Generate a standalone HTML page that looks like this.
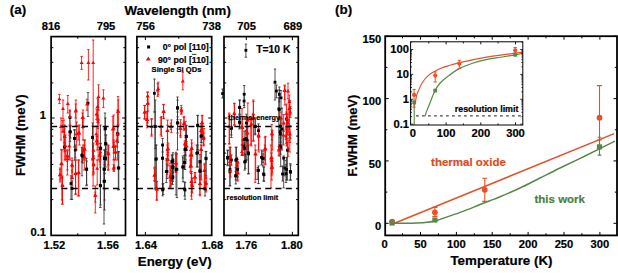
<!DOCTYPE html>
<html><head><meta charset="utf-8"><style>
html,body{margin:0;padding:0;background:#fff;}
svg{display:block;}
</style></head><body>
<svg width="618" height="273" viewBox="0 0 618 273">
<rect width="618" height="273" fill="#fff"/>
<path d="M88 92.6V116.4M86.8 92.6h2.4M86.8 116.4h2.4" stroke="#333" stroke-width="0.85" fill="none"/>
<path d="M70 110.9V141.6M68.8 110.9h2.4M68.8 141.6h2.4" stroke="#333" stroke-width="0.85" fill="none"/>
<path d="M70.4 125.5768947197462V138.02310528025382M69.2 125.5768947197462h2.4M69.2 138.02310528025382h2.4" stroke="#333" stroke-width="0.85" fill="none"/>
<path d="M74.4 129.7220663914774V147.0779336085226M73.2 129.7220663914774h2.4M73.2 147.0779336085226h2.4" stroke="#333" stroke-width="0.85" fill="none"/>
<path d="M92.6 123V160M91.39999999999999 123h2.4M91.39999999999999 160h2.4" stroke="#333" stroke-width="0.85" fill="none"/>
<path d="M105 113V145M103.8 113h2.4M103.8 145h2.4" stroke="#333" stroke-width="0.85" fill="none"/>
<path d="M105.6 135.0056666983098V151.79433330169022M104.39999999999999 135.0056666983098h2.4M104.39999999999999 151.79433330169022h2.4" stroke="#333" stroke-width="0.85" fill="none"/>
<path d="M100.7 143.7127284513456V152.68727154865437M99.5 143.7127284513456h2.4M99.5 152.68727154865437h2.4" stroke="#333" stroke-width="0.85" fill="none"/>
<path d="M118 126.3V142.7M116.8 126.3h2.4M116.8 142.7h2.4" stroke="#333" stroke-width="0.85" fill="none"/>
<path d="M64.5 142.32015569899664V151.67984430100336M63.3 142.32015569899664h2.4M63.3 151.67984430100336h2.4" stroke="#333" stroke-width="0.85" fill="none"/>
<path d="M71 175.8V199.3M69.8 175.8h2.4M69.8 199.3h2.4" stroke="#333" stroke-width="0.85" fill="none"/>
<path d="M82 147.2V175.8M80.8 147.2h2.4M80.8 175.8h2.4" stroke="#333" stroke-width="0.85" fill="none"/>
<path d="M86.5 158.2V185.7M85.3 158.2h2.4M85.3 185.7h2.4" stroke="#333" stroke-width="0.85" fill="none"/>
<path d="M100.3 143.21506529383433V153.3849347061657M99.1 143.21506529383433h2.4M99.1 153.3849347061657h2.4" stroke="#333" stroke-width="0.85" fill="none"/>
<path d="M100.3 167V207.5M99.1 167h2.4M99.1 207.5h2.4" stroke="#333" stroke-width="0.85" fill="none"/>
<path d="M104 156V187.9M102.8 156h2.4M102.8 187.9h2.4" stroke="#333" stroke-width="0.85" fill="none"/>
<path d="M104 170V224M102.8 170h2.4M102.8 224h2.4" stroke="#333" stroke-width="0.85" fill="none"/>
<path d="M105.6 149.37259930550897V167.027400694491M104.39999999999999 149.37259930550897h2.4M104.39999999999999 167.027400694491h2.4" stroke="#333" stroke-width="0.85" fill="none"/>
<path d="M118.3 151.6V190M117.1 151.6h2.4M117.1 190h2.4" stroke="#333" stroke-width="0.85" fill="none"/>
<path d="M154.4 79V112M153.20000000000002 79h2.4M153.20000000000002 112h2.4" stroke="#333" stroke-width="0.85" fill="none"/>
<path d="M154.9 112V189M153.70000000000002 112h2.4M153.70000000000002 189h2.4" stroke="#333" stroke-width="0.85" fill="none"/>
<path d="M177.5 97V119.7M176.3 97h2.4M176.3 119.7h2.4" stroke="#333" stroke-width="0.85" fill="none"/>
<path d="M177.5 112V150M176.3 112h2.4M176.3 150h2.4" stroke="#333" stroke-width="0.85" fill="none"/>
<path d="M186.3 125.2V150M185.10000000000002 125.2h2.4M185.10000000000002 150h2.4" stroke="#333" stroke-width="0.85" fill="none"/>
<path d="M197.7 115.3V150M196.5 115.3h2.4M196.5 150h2.4" stroke="#333" stroke-width="0.85" fill="none"/>
<path d="M201 130.01919066686284V142.38080933313714M199.8 130.01919066686284h2.4M199.8 142.38080933313714h2.4" stroke="#333" stroke-width="0.85" fill="none"/>
<path d="M156 145V189M154.8 145h2.4M154.8 189h2.4" stroke="#333" stroke-width="0.85" fill="none"/>
<path d="M162.6 145V189M161.4 145h2.4M161.4 189h2.4" stroke="#333" stroke-width="0.85" fill="none"/>
<path d="M167 164.266758545666V178.53324145433402M165.8 164.266758545666h2.4M165.8 178.53324145433402h2.4" stroke="#333" stroke-width="0.85" fill="none"/>
<path d="M172.5 154.9V178M171.3 154.9h2.4M171.3 178h2.4" stroke="#333" stroke-width="0.85" fill="none"/>
<path d="M173 161.49486900787247V172.50513099212753M171.8 161.49486900787247h2.4M171.8 172.50513099212753h2.4" stroke="#333" stroke-width="0.85" fill="none"/>
<path d="M172.5 171.4637850808547V184.5362149191453M171.3 171.4637850808547h2.4M171.3 184.5362149191453h2.4" stroke="#333" stroke-width="0.85" fill="none"/>
<path d="M176.9 153.8V197.6M175.70000000000002 153.8h2.4M175.70000000000002 197.6h2.4" stroke="#333" stroke-width="0.85" fill="none"/>
<path d="M162.6 183.9706687057755V195.82933129422452M161.4 183.9706687057755h2.4M161.4 195.82933129422452h2.4" stroke="#333" stroke-width="0.85" fill="none"/>
<path d="M182.8 156V178M181.60000000000002 156h2.4M181.60000000000002 178h2.4" stroke="#333" stroke-width="0.85" fill="none"/>
<path d="M185 143.6454475561491V155.15455244385092M183.8 143.6454475561491h2.4M183.8 155.15455244385092h2.4" stroke="#333" stroke-width="0.85" fill="none"/>
<path d="M185 155.67462946297317V169.52537053702682M183.8 155.67462946297317h2.4M183.8 169.52537053702682h2.4" stroke="#333" stroke-width="0.85" fill="none"/>
<path d="M185 182.4V199.3M183.8 182.4h2.4M183.8 199.3h2.4" stroke="#333" stroke-width="0.85" fill="none"/>
<path d="M197.7 145V167M196.5 145h2.4M196.5 167h2.4" stroke="#333" stroke-width="0.85" fill="none"/>
<path d="M200 154.578741035149V168.421258964851M198.8 154.578741035149h2.4M198.8 168.421258964851h2.4" stroke="#333" stroke-width="0.85" fill="none"/>
<path d="M200 162.87899114576112V179.9210088542389M198.8 162.87899114576112h2.4M198.8 179.9210088542389h2.4" stroke="#333" stroke-width="0.85" fill="none"/>
<path d="M206 151.6V178M204.8 151.6h2.4M204.8 178h2.4" stroke="#333" stroke-width="0.85" fill="none"/>
<path d="M245.9 44.1V57.2M244.70000000000002 44.1h2.4M244.70000000000002 57.2h2.4" stroke="#333" stroke-width="0.85" fill="none"/>
<path d="M222.6 89V98M221.4 89h2.4M221.4 98h2.4" stroke="#333" stroke-width="0.85" fill="none"/>
<path d="M275 69V100M273.8 69h2.4M273.8 100h2.4" stroke="#333" stroke-width="0.85" fill="none"/>
<path d="M244.2 85.5V107.6M243.0 85.5h2.4M243.0 107.6h2.4" stroke="#333" stroke-width="0.85" fill="none"/>
<path d="M279.3 86.99008931682518V101.80991068317483M278.1 86.99008931682518h2.4M278.1 101.80991068317483h2.4" stroke="#333" stroke-width="0.85" fill="none"/>
<path d="M279.3 90V119.7M278.1 90h2.4M278.1 119.7h2.4" stroke="#333" stroke-width="0.85" fill="none"/>
<path d="M280.4 117.65527199399992V134.94472800600008M279.2 117.65527199399992h2.4M279.2 134.94472800600008h2.4" stroke="#333" stroke-width="0.85" fill="none"/>
<path d="M280.4 125.71799716801623V142.2820028319838M279.2 125.71799716801623h2.4M279.2 142.2820028319838h2.4" stroke="#333" stroke-width="0.85" fill="none"/>
<path d="M231.4 119.54505177565592V137.45494822434407M230.20000000000002 119.54505177565592h2.4M230.20000000000002 137.45494822434407h2.4" stroke="#333" stroke-width="0.85" fill="none"/>
<path d="M239.8 100.2436322891874V114.95636771081259M238.60000000000002 100.2436322891874h2.4M238.60000000000002 114.95636771081259h2.4" stroke="#333" stroke-width="0.85" fill="none"/>
<path d="M239.8 118.18450189014465V127.81549810985535M238.60000000000002 118.18450189014465h2.4M238.60000000000002 127.81549810985535h2.4" stroke="#333" stroke-width="0.85" fill="none"/>
<path d="M244.2 131.19681233441867V147.80318766558133M243.0 131.19681233441867h2.4M243.0 147.80318766558133h2.4" stroke="#333" stroke-width="0.85" fill="none"/>
<path d="M246.4 114.17683526345469V131.8231647365453M245.20000000000002 114.17683526345469h2.4M245.20000000000002 131.8231647365453h2.4" stroke="#333" stroke-width="0.85" fill="none"/>
<path d="M255.2 117.77652007743882V134.82347992256118M254.0 117.77652007743882h2.4M254.0 134.82347992256118h2.4" stroke="#333" stroke-width="0.85" fill="none"/>
<path d="M258.5 123.85446248262838V137.5455375173716M257.3 123.85446248262838h2.4M257.3 137.5455375173716h2.4" stroke="#333" stroke-width="0.85" fill="none"/>
<path d="M227.7 150.63091489912898V165.769085100871M226.5 150.63091489912898h2.4M226.5 165.769085100871h2.4" stroke="#333" stroke-width="0.85" fill="none"/>
<path d="M229.9 156V185.7M228.70000000000002 156h2.4M228.70000000000002 185.7h2.4" stroke="#333" stroke-width="0.85" fill="none"/>
<path d="M231.4 154.944375081622V165.055624918378M230.20000000000002 154.944375081622h2.4M230.20000000000002 165.055624918378h2.4" stroke="#333" stroke-width="0.85" fill="none"/>
<path d="M236.5 147.2V175.8M235.3 147.2h2.4M235.3 175.8h2.4" stroke="#333" stroke-width="0.85" fill="none"/>
<path d="M235.8 167.64196034863323V183.9580396513668M234.60000000000002 167.64196034863323h2.4M234.60000000000002 183.9580396513668h2.4" stroke="#333" stroke-width="0.85" fill="none"/>
<path d="M245.3 154.63233823824356V168.36766176175644M244.10000000000002 154.63233823824356h2.4M244.10000000000002 168.36766176175644h2.4" stroke="#333" stroke-width="0.85" fill="none"/>
<path d="M244.6 142.875212690069V153.72478730993103M243.4 142.875212690069h2.4M243.4 153.72478730993103h2.4" stroke="#333" stroke-width="0.85" fill="none"/>
<path d="M248.6 145V173.6M247.4 145h2.4M247.4 173.6h2.4" stroke="#333" stroke-width="0.85" fill="none"/>
<path d="M258.5 165.9V183.5M257.3 165.9h2.4M257.3 183.5h2.4" stroke="#333" stroke-width="0.85" fill="none"/>
<path d="M264 167V181.3M262.8 167h2.4M262.8 181.3h2.4" stroke="#333" stroke-width="0.85" fill="none"/>
<path d="M262.9 153.88269711427384V162.51730288572614M261.7 153.88269711427384h2.4M261.7 162.51730288572614h2.4" stroke="#333" stroke-width="0.85" fill="none"/>
<path d="M280.4 137.73028755788658V154.26971244211342M279.2 137.73028755788658h2.4M279.2 154.26971244211342h2.4" stroke="#333" stroke-width="0.85" fill="none"/>
<path d="M283.7 156V187.9M282.5 156h2.4M282.5 187.9h2.4" stroke="#333" stroke-width="0.85" fill="none"/>
<path d="M284.8 160.4V175.8M283.6 160.4h2.4M283.6 175.8h2.4" stroke="#333" stroke-width="0.85" fill="none"/>
<path d="M286 164.65096992539208V182.5490300746079M284.8 164.65096992539208h2.4M284.8 182.5490300746079h2.4" stroke="#333" stroke-width="0.85" fill="none"/>
<path d="M290.3 163.7V180.2M289.1 163.7h2.4M289.1 180.2h2.4" stroke="#333" stroke-width="0.85" fill="none"/>
<path d="M69.8 126V160M68.6 126h2.4M68.6 160h2.4" stroke="#333" stroke-width="0.85" fill="none"/>
<path d="M74.8 130V160M73.6 130h2.4M73.6 160h2.4" stroke="#333" stroke-width="0.85" fill="none"/>
<path d="M82 148V162M80.8 148h2.4M80.8 162h2.4" stroke="#333" stroke-width="0.85" fill="none"/>
<path d="M92.6 126V160M91.39999999999999 126h2.4M91.39999999999999 160h2.4" stroke="#333" stroke-width="0.85" fill="none"/>
<path d="M100.5 125V160M99.3 125h2.4M99.3 160h2.4" stroke="#333" stroke-width="0.85" fill="none"/>
<path d="M105.4 118V160M104.2 118h2.4M104.2 160h2.4" stroke="#333" stroke-width="0.85" fill="none"/>
<path d="M106 135V160M104.8 135h2.4M104.8 160h2.4" stroke="#333" stroke-width="0.85" fill="none"/>
<path d="M104.5 150V200M103.3 150h2.4M103.3 200h2.4" stroke="#333" stroke-width="0.85" fill="none"/>
<path d="M117.4 126V142M116.2 126h2.4M116.2 142h2.4" stroke="#333" stroke-width="0.85" fill="none"/>
<path d="M82.7 150V163M81.5 150h2.4M81.5 163h2.4" stroke="#333" stroke-width="0.85" fill="none"/>
<path d="M86.7 161V184.9M85.5 161h2.4M85.5 184.9h2.4" stroke="#333" stroke-width="0.85" fill="none"/>
<path d="M72 181V199.5M70.8 181h2.4M70.8 199.5h2.4" stroke="#333" stroke-width="0.85" fill="none"/>
<path d="M75.3 145V158M74.1 145h2.4M74.1 158h2.4" stroke="#333" stroke-width="0.85" fill="none"/>
<path d="M100.5 150V205M99.3 150h2.4M99.3 205h2.4" stroke="#333" stroke-width="0.85" fill="none"/>
<path d="M104.5 150V210M103.3 150h2.4M103.3 210h2.4" stroke="#333" stroke-width="0.85" fill="none"/>
<path d="M104.5 164.85740953445136V173.74259046554866M103.3 164.85740953445136h2.4M103.3 173.74259046554866h2.4" stroke="#333" stroke-width="0.85" fill="none"/>
<path d="M104.5 173.19702339371247V189.2029766062875M103.3 173.19702339371247h2.4M103.3 189.2029766062875h2.4" stroke="#333" stroke-width="0.85" fill="none"/>
<path d="M118.8 151.8V189.4M117.6 151.8h2.4M117.6 189.4h2.4" stroke="#333" stroke-width="0.85" fill="none"/>
<path d="M155.3 100V148.6M154.10000000000002 100h2.4M154.10000000000002 148.6h2.4" stroke="#333" stroke-width="0.85" fill="none"/>
<path d="M162.6 138.5V152M161.4 138.5h2.4M161.4 152h2.4" stroke="#333" stroke-width="0.85" fill="none"/>
<path d="M177.5 100V133M176.3 100h2.4M176.3 133h2.4" stroke="#333" stroke-width="0.85" fill="none"/>
<path d="M177.5 116.84769086327046V128.95230913672955M176.3 116.84769086327046h2.4M176.3 128.95230913672955h2.4" stroke="#333" stroke-width="0.85" fill="none"/>
<path d="M186.3 125.7V150M185.10000000000002 125.7h2.4M185.10000000000002 150h2.4" stroke="#333" stroke-width="0.85" fill="none"/>
<path d="M185.8 140V160M184.60000000000002 140h2.4M184.60000000000002 160h2.4" stroke="#333" stroke-width="0.85" fill="none"/>
<path d="M197.7 115.6V150M196.5 115.6h2.4M196.5 150h2.4" stroke="#333" stroke-width="0.85" fill="none"/>
<path d="M201.7 128V143M200.5 128h2.4M200.5 143h2.4" stroke="#333" stroke-width="0.85" fill="none"/>
<path d="M156.2 145V187.2M155.0 145h2.4M155.0 187.2h2.4" stroke="#333" stroke-width="0.85" fill="none"/>
<path d="M162.6 145V189M161.4 145h2.4M161.4 189h2.4" stroke="#333" stroke-width="0.85" fill="none"/>
<path d="M166.3 158.8V182.6M165.10000000000002 158.8h2.4M165.10000000000002 182.6h2.4" stroke="#333" stroke-width="0.85" fill="none"/>
<path d="M171.8 155V168M170.60000000000002 155h2.4M170.60000000000002 168h2.4" stroke="#333" stroke-width="0.85" fill="none"/>
<path d="M172.7 163.24617312773594V172.75382687226406M171.5 163.24617312773594h2.4M171.5 172.75382687226406h2.4" stroke="#333" stroke-width="0.85" fill="none"/>
<path d="M171.8 170V184M170.60000000000002 170h2.4M170.60000000000002 184h2.4" stroke="#333" stroke-width="0.85" fill="none"/>
<path d="M163.2 183.5305437659047V194.4694562340953M162.0 183.5305437659047h2.4M162.0 194.4694562340953h2.4" stroke="#333" stroke-width="0.85" fill="none"/>
<path d="M176 152.3V195M174.8 152.3h2.4M174.8 195h2.4" stroke="#333" stroke-width="0.85" fill="none"/>
<path d="M172.9 152.75604056361328V168.4439594363867M171.70000000000002 152.75604056361328h2.4M171.70000000000002 168.4439594363867h2.4" stroke="#333" stroke-width="0.85" fill="none"/>
<path d="M172.9 158.636164876859V175.363835123141M171.70000000000002 158.636164876859h2.4M171.70000000000002 175.363835123141h2.4" stroke="#333" stroke-width="0.85" fill="none"/>
<path d="M172.9 172.8790496943523V181.3209503056477M171.70000000000002 172.8790496943523h2.4M171.70000000000002 181.3209503056477h2.4" stroke="#333" stroke-width="0.85" fill="none"/>
<path d="M183 157.8V181.7M181.8 157.8h2.4M181.8 181.7h2.4" stroke="#333" stroke-width="0.85" fill="none"/>
<path d="M184.5 155.32733735734095V169.47266264265906M183.3 155.32733735734095h2.4M183.3 169.47266264265906h2.4" stroke="#333" stroke-width="0.85" fill="none"/>
<path d="M185.2 145V155M184.0 145h2.4M184.0 155h2.4" stroke="#333" stroke-width="0.85" fill="none"/>
<path d="M184.5 182V196M183.3 182h2.4M183.3 196h2.4" stroke="#333" stroke-width="0.85" fill="none"/>
<path d="M196.8 145V167M195.60000000000002 145h2.4M195.60000000000002 167h2.4" stroke="#333" stroke-width="0.85" fill="none"/>
<path d="M199.9 163V178M198.70000000000002 163h2.4M198.70000000000002 178h2.4" stroke="#333" stroke-width="0.85" fill="none"/>
<path d="M206 151.4V175.3M204.8 151.4h2.4M204.8 175.3h2.4" stroke="#333" stroke-width="0.85" fill="none"/>
<path d="M205 182V196M203.8 182h2.4M203.8 196h2.4" stroke="#333" stroke-width="0.85" fill="none"/>
<path d="M239.5 100V114M238.3 100h2.4M238.3 114h2.4" stroke="#333" stroke-width="0.85" fill="none"/>
<path d="M239.5 115V129M238.3 115h2.4M238.3 129h2.4" stroke="#333" stroke-width="0.85" fill="none"/>
<path d="M231.3 120V135M230.10000000000002 120h2.4M230.10000000000002 135h2.4" stroke="#333" stroke-width="0.85" fill="none"/>
<path d="M245.9 130.3V160M244.70000000000002 130.3h2.4M244.70000000000002 160h2.4" stroke="#333" stroke-width="0.85" fill="none"/>
<path d="M255.1 119V134M253.9 119h2.4M253.9 134h2.4" stroke="#333" stroke-width="0.85" fill="none"/>
<path d="M244.1 94V105.5M242.9 94h2.4M242.9 105.5h2.4" stroke="#333" stroke-width="0.85" fill="none"/>
<path d="M246.9 127.5V160M245.70000000000002 127.5h2.4M245.70000000000002 160h2.4" stroke="#333" stroke-width="0.85" fill="none"/>
<path d="M281 90.5V108.9M279.8 90.5h2.4M279.8 108.9h2.4" stroke="#333" stroke-width="0.85" fill="none"/>
<path d="M278.8 97.8V150M277.6 97.8h2.4M277.6 150h2.4" stroke="#333" stroke-width="0.85" fill="none"/>
<path d="M276.4 85V97.8M275.2 85h2.4M275.2 97.8h2.4" stroke="#333" stroke-width="0.85" fill="none"/>
<path d="M282 108V150M280.8 108h2.4M280.8 150h2.4" stroke="#333" stroke-width="0.85" fill="none"/>
<path d="M286.5 112V126M285.3 112h2.4M285.3 126h2.4" stroke="#333" stroke-width="0.85" fill="none"/>
<path d="M263 151V166M261.8 151h2.4M261.8 166h2.4" stroke="#333" stroke-width="0.85" fill="none"/>
<path d="M263.6 167V181M262.40000000000003 167h2.4M262.40000000000003 181h2.4" stroke="#333" stroke-width="0.85" fill="none"/>
<path d="M280.1 125V150M278.90000000000003 125h2.4M278.90000000000003 150h2.4" stroke="#333" stroke-width="0.85" fill="none"/>
<path d="M280.7 130V166.7M279.5 130h2.4M279.5 166.7h2.4" stroke="#333" stroke-width="0.85" fill="none"/>
<path d="M282.5 166V181M281.3 166h2.4M281.3 181h2.4" stroke="#333" stroke-width="0.85" fill="none"/>
<path d="M286.5 157.5V180M285.3 157.5h2.4M285.3 180h2.4" stroke="#333" stroke-width="0.85" fill="none"/>
<path d="M290.6 165V180M289.40000000000003 165h2.4M289.40000000000003 180h2.4" stroke="#333" stroke-width="0.85" fill="none"/>
<path d="M287.4 142V180M286.2 142h2.4M286.2 180h2.4" stroke="#333" stroke-width="0.85" fill="none"/>
<path d="M227.6 150V165M226.4 150h2.4M226.4 165h2.4" stroke="#333" stroke-width="0.85" fill="none"/>
<path d="M230 147.3V185.9M228.8 147.3h2.4M228.8 185.9h2.4" stroke="#333" stroke-width="0.85" fill="none"/>
<path d="M235.8 147.3V176.7M234.60000000000002 147.3h2.4M234.60000000000002 176.7h2.4" stroke="#333" stroke-width="0.85" fill="none"/>
<path d="M235.8 171.57529878251984V180.02470121748019M234.60000000000002 171.57529878251984h2.4M234.60000000000002 180.02470121748019h2.4" stroke="#333" stroke-width="0.85" fill="none"/>
<path d="M237.7 161.8077976127574V176.9922023872426M236.5 161.8077976127574h2.4M236.5 176.9922023872426h2.4" stroke="#333" stroke-width="0.85" fill="none"/>
<path d="M244.7 154V170M243.5 154h2.4M243.5 170h2.4" stroke="#333" stroke-width="0.85" fill="none"/>
<path d="M248.3 140V174M247.10000000000002 140h2.4M247.10000000000002 174h2.4" stroke="#333" stroke-width="0.85" fill="none"/>
<path d="M257.9 167.5V179.4M256.7 167.5h2.4M256.7 179.4h2.4" stroke="#333" stroke-width="0.85" fill="none"/>
<path d="M261.5 150V165M260.3 150h2.4M260.3 165h2.4" stroke="#333" stroke-width="0.85" fill="none"/>
<path d="M244 140V150M242.8 140h2.4M242.8 150h2.4" stroke="#333" stroke-width="0.85" fill="none"/>
<path d="M59.4 94.4V103.6M58.199999999999996 94.4h2.4M58.199999999999996 103.6h2.4" stroke="#ff0000" stroke-width="0.85" fill="none"/>
<path d="M63 100V118.6M61.8 100h2.4M61.8 118.6h2.4" stroke="#ff0000" stroke-width="0.85" fill="none"/>
<path d="M67.8 95.5V113M66.6 95.5h2.4M66.6 113h2.4" stroke="#ff0000" stroke-width="0.85" fill="none"/>
<path d="M75.9 100V126M74.7 100h2.4M74.7 126h2.4" stroke="#ff0000" stroke-width="0.85" fill="none"/>
<path d="M87 99.2V110.2M85.8 99.2h2.4M85.8 110.2h2.4" stroke="#ff0000" stroke-width="0.85" fill="none"/>
<path d="M98.5 84.8V110M97.3 84.8h2.4M97.3 110h2.4" stroke="#ff0000" stroke-width="0.85" fill="none"/>
<path d="M103.4 89.8V107.6M102.2 89.8h2.4M102.2 107.6h2.4" stroke="#ff0000" stroke-width="0.85" fill="none"/>
<path d="M97.5 98.8V120.8M96.3 98.8h2.4M96.3 120.8h2.4" stroke="#ff0000" stroke-width="0.85" fill="none"/>
<path d="M96.4 109.01017686454054V119.38982313545947M95.2 109.01017686454054h2.4M95.2 119.38982313545947h2.4" stroke="#ff0000" stroke-width="0.85" fill="none"/>
<path d="M98 115.17885387352024V128.62114612647977M96.8 115.17885387352024h2.4M96.8 128.62114612647977h2.4" stroke="#ff0000" stroke-width="0.85" fill="none"/>
<path d="M118 96.6V125M116.8 96.6h2.4M116.8 125h2.4" stroke="#ff0000" stroke-width="0.85" fill="none"/>
<path d="M82.5 113V127.4M81.3 113h2.4M81.3 127.4h2.4" stroke="#ff0000" stroke-width="0.85" fill="none"/>
<path d="M62.3 120.4502241672596V132.1497758327404M61.099999999999994 120.4502241672596h2.4M61.099999999999994 132.1497758327404h2.4" stroke="#ff0000" stroke-width="0.85" fill="none"/>
<path d="M64.5 128.98039980701904V143.01960019298096M63.3 128.98039980701904h2.4M63.3 143.01960019298096h2.4" stroke="#ff0000" stroke-width="0.85" fill="none"/>
<path d="M78.3 125.77139847945973V140.02860152054026M77.1 125.77139847945973h2.4M77.1 140.02860152054026h2.4" stroke="#ff0000" stroke-width="0.85" fill="none"/>
<path d="M96.8 136.17235570380095V144.82764429619905M95.6 136.17235570380095h2.4M95.6 144.82764429619905h2.4" stroke="#ff0000" stroke-width="0.85" fill="none"/>
<path d="M112.8 116.4V147.1M111.6 116.4h2.4M111.6 147.1h2.4" stroke="#ff0000" stroke-width="0.85" fill="none"/>
<path d="M114 141.93416004222564V150.06583995777436M112.8 141.93416004222564h2.4M112.8 150.06583995777436h2.4" stroke="#ff0000" stroke-width="0.85" fill="none"/>
<path d="M84.3 140.0126545895177V156.38734541048228M83.1 140.0126545895177h2.4M83.1 156.38734541048228h2.4" stroke="#ff0000" stroke-width="0.85" fill="none"/>
<path d="M81.6 56.4V69.4M80.39999999999999 56.4h2.4M80.39999999999999 69.4h2.4" stroke="#ff0000" stroke-width="0.85" fill="none"/>
<path d="M88.4 49.6V80M87.2 49.6h2.4M87.2 80h2.4" stroke="#ff0000" stroke-width="0.85" fill="none"/>
<path d="M93.2 40V140M92.0 40h2.4M92.0 140h2.4" stroke="#ff0000" stroke-width="0.85" fill="none"/>
<path d="M61.2 149.4V178M60.0 149.4h2.4M60.0 178h2.4" stroke="#ff0000" stroke-width="0.85" fill="none"/>
<path d="M60 169.40322992835996V179.99677007164001M58.8 169.40322992835996h2.4M58.8 179.99677007164001h2.4" stroke="#ff0000" stroke-width="0.85" fill="none"/>
<path d="M62.3 178V204.2M61.099999999999994 178h2.4M61.099999999999994 204.2h2.4" stroke="#ff0000" stroke-width="0.85" fill="none"/>
<path d="M67.3 150.8283451947665V161.1716548052335M66.1 150.8283451947665h2.4M66.1 161.1716548052335h2.4" stroke="#ff0000" stroke-width="0.85" fill="none"/>
<path d="M72.2 160.4V178M71.0 160.4h2.4M71.0 178h2.4" stroke="#ff0000" stroke-width="0.85" fill="none"/>
<path d="M75.5 160V194.3M74.3 160h2.4M74.3 194.3h2.4" stroke="#ff0000" stroke-width="0.85" fill="none"/>
<path d="M78.8 160V195.8M77.6 160h2.4M77.6 195.8h2.4" stroke="#ff0000" stroke-width="0.85" fill="none"/>
<path d="M84.3 145V170M83.1 145h2.4M83.1 170h2.4" stroke="#ff0000" stroke-width="0.85" fill="none"/>
<path d="M93 145V175M91.8 145h2.4M91.8 175h2.4" stroke="#ff0000" stroke-width="0.85" fill="none"/>
<path d="M93.7 155.8217758224477V173.77822417755232M92.5 155.8217758224477h2.4M92.5 173.77822417755232h2.4" stroke="#ff0000" stroke-width="0.85" fill="none"/>
<path d="M95.3 186V213M94.1 186h2.4M94.1 213h2.4" stroke="#ff0000" stroke-width="0.85" fill="none"/>
<path d="M108.4 145V165M107.2 145h2.4M107.2 165h2.4" stroke="#ff0000" stroke-width="0.85" fill="none"/>
<path d="M114 159.3V171.4M112.8 159.3h2.4M112.8 171.4h2.4" stroke="#ff0000" stroke-width="0.85" fill="none"/>
<path d="M182.8 72.3V89.8M181.60000000000002 72.3h2.4M181.60000000000002 89.8h2.4" stroke="#ff0000" stroke-width="0.85" fill="none"/>
<path d="M158.2 82.2V95M157.0 82.2h2.4M157.0 95h2.4" stroke="#ff0000" stroke-width="0.85" fill="none"/>
<path d="M147.6 92V100M146.4 92h2.4M146.4 100h2.4" stroke="#ff0000" stroke-width="0.85" fill="none"/>
<path d="M157.7 83.64868246238775V96.35131753761225M156.5 83.64868246238775h2.4M156.5 96.35131753761225h2.4" stroke="#ff0000" stroke-width="0.85" fill="none"/>
<path d="M144.5 105.4V118.6M143.3 105.4h2.4M143.3 118.6h2.4" stroke="#ff0000" stroke-width="0.85" fill="none"/>
<path d="M147.6 92.2V123M146.4 92.2h2.4M146.4 123h2.4" stroke="#ff0000" stroke-width="0.85" fill="none"/>
<path d="M147.2 111.51769274362806V127.88230725637194M146.0 111.51769274362806h2.4M146.0 127.88230725637194h2.4" stroke="#ff0000" stroke-width="0.85" fill="none"/>
<path d="M151.6 118.6V136.2M150.4 118.6h2.4M150.4 136.2h2.4" stroke="#ff0000" stroke-width="0.85" fill="none"/>
<path d="M163.7 104.3V118.6M162.5 104.3h2.4M162.5 118.6h2.4" stroke="#ff0000" stroke-width="0.85" fill="none"/>
<path d="M161.5 116.4V136.2M160.3 116.4h2.4M160.3 136.2h2.4" stroke="#ff0000" stroke-width="0.85" fill="none"/>
<path d="M167.4 125.2V150M166.20000000000002 125.2h2.4M166.20000000000002 150h2.4" stroke="#ff0000" stroke-width="0.85" fill="none"/>
<path d="M171.4 119.91823395650333V132.68176604349668M170.20000000000002 119.91823395650333h2.4M170.20000000000002 132.68176604349668h2.4" stroke="#ff0000" stroke-width="0.85" fill="none"/>
<path d="M181.3 105.4V114.2M180.10000000000002 105.4h2.4M180.10000000000002 114.2h2.4" stroke="#ff0000" stroke-width="0.85" fill="none"/>
<path d="M184 116.4V128.5M182.8 116.4h2.4M182.8 128.5h2.4" stroke="#ff0000" stroke-width="0.85" fill="none"/>
<path d="M180.6 119.7V137.3M179.4 119.7h2.4M179.4 137.3h2.4" stroke="#ff0000" stroke-width="0.85" fill="none"/>
<path d="M185.6 121.30465929727919V135.6953407027208M184.4 121.30465929727919h2.4M184.4 135.6953407027208h2.4" stroke="#ff0000" stroke-width="0.85" fill="none"/>
<path d="M185.6 137.94691787988236V147.4530821201176M184.4 137.94691787988236h2.4M184.4 147.4530821201176h2.4" stroke="#ff0000" stroke-width="0.85" fill="none"/>
<path d="M202 115.3V129.6M200.8 115.3h2.4M200.8 129.6h2.4" stroke="#ff0000" stroke-width="0.85" fill="none"/>
<path d="M201 123.52569670857405V137.87430329142592M199.8 123.52569670857405h2.4M199.8 137.87430329142592h2.4" stroke="#ff0000" stroke-width="0.85" fill="none"/>
<path d="M203.9 128.5V145M202.70000000000002 128.5h2.4M202.70000000000002 145h2.4" stroke="#ff0000" stroke-width="0.85" fill="none"/>
<path d="M191.6 139.8597734642835V156.54022653571647M190.4 139.8597734642835h2.4M190.4 156.54022653571647h2.4" stroke="#ff0000" stroke-width="0.85" fill="none"/>
<path d="M167.4 145V160M166.20000000000002 145h2.4M166.20000000000002 160h2.4" stroke="#ff0000" stroke-width="0.85" fill="none"/>
<path d="M168 152.6840939480835V165.91590605191652M166.8 152.6840939480835h2.4M166.8 165.91590605191652h2.4" stroke="#ff0000" stroke-width="0.85" fill="none"/>
<path d="M170.3 165.9V186.8M169.10000000000002 165.9h2.4M169.10000000000002 186.8h2.4" stroke="#ff0000" stroke-width="0.85" fill="none"/>
<path d="M175.8 153.8V171.4M174.60000000000002 153.8h2.4M174.60000000000002 171.4h2.4" stroke="#ff0000" stroke-width="0.85" fill="none"/>
<path d="M154.9 167V181.3M153.70000000000002 167h2.4M153.70000000000002 181.3h2.4" stroke="#ff0000" stroke-width="0.85" fill="none"/>
<path d="M157 181.3V200.2M155.8 181.3h2.4M155.8 200.2h2.4" stroke="#ff0000" stroke-width="0.85" fill="none"/>
<path d="M191.6 147.2V167M190.4 147.2h2.4M190.4 167h2.4" stroke="#ff0000" stroke-width="0.85" fill="none"/>
<path d="M191.1 158.19374071899256V173.60625928100745M189.9 158.19374071899256h2.4M189.9 173.60625928100745h2.4" stroke="#ff0000" stroke-width="0.85" fill="none"/>
<path d="M191.6 171.4V199.3M190.4 171.4h2.4M190.4 199.3h2.4" stroke="#ff0000" stroke-width="0.85" fill="none"/>
<path d="M192.2 178.34294262315203V193.05705737684795M191.0 178.34294262315203h2.4M191.0 193.05705737684795h2.4" stroke="#ff0000" stroke-width="0.85" fill="none"/>
<path d="M195 172.5V182.4M193.8 172.5h2.4M193.8 182.4h2.4" stroke="#ff0000" stroke-width="0.85" fill="none"/>
<path d="M201 145V171.4M199.8 145h2.4M199.8 171.4h2.4" stroke="#ff0000" stroke-width="0.85" fill="none"/>
<path d="M200 175V195.8M198.8 175h2.4M198.8 195.8h2.4" stroke="#ff0000" stroke-width="0.85" fill="none"/>
<path d="M204.3 164.8V189M203.10000000000002 164.8h2.4M203.10000000000002 189h2.4" stroke="#ff0000" stroke-width="0.85" fill="none"/>
<path d="M206 178V192M204.8 178h2.4M204.8 192h2.4" stroke="#ff0000" stroke-width="0.85" fill="none"/>
<path d="M186.7 141.679842808865V150.320157191135M185.5 141.679842808865h2.4M185.5 150.320157191135h2.4" stroke="#ff0000" stroke-width="0.85" fill="none"/>
<path d="M284.8 86V105M283.6 86h2.4M283.6 105h2.4" stroke="#ff0000" stroke-width="0.85" fill="none"/>
<path d="M288 83.20884876856591V98.79115123143409M286.8 83.20884876856591h2.4M286.8 98.79115123143409h2.4" stroke="#ff0000" stroke-width="0.85" fill="none"/>
<path d="M229.2 113V143.8M228.0 113h2.4M228.0 143.8h2.4" stroke="#ff0000" stroke-width="0.85" fill="none"/>
<path d="M234.3 103.2V125.2M233.10000000000002 103.2h2.4M233.10000000000002 125.2h2.4" stroke="#ff0000" stroke-width="0.85" fill="none"/>
<path d="M242 108.7V145M240.8 108.7h2.4M240.8 145h2.4" stroke="#ff0000" stroke-width="0.85" fill="none"/>
<path d="M247.5 117.5V150M246.3 117.5h2.4M246.3 150h2.4" stroke="#ff0000" stroke-width="0.85" fill="none"/>
<path d="M250.8 118.6V145M249.60000000000002 118.6h2.4M249.60000000000002 145h2.4" stroke="#ff0000" stroke-width="0.85" fill="none"/>
<path d="M253.4 101.4V140.5M252.20000000000002 101.4h2.4M252.20000000000002 140.5h2.4" stroke="#ff0000" stroke-width="0.85" fill="none"/>
<path d="M258.5 128.5V150M257.3 128.5h2.4M257.3 150h2.4" stroke="#ff0000" stroke-width="0.85" fill="none"/>
<path d="M265 137.3V160M263.8 137.3h2.4M263.8 160h2.4" stroke="#ff0000" stroke-width="0.85" fill="none"/>
<path d="M272.3 130.7V150M271.1 130.7h2.4M271.1 150h2.4" stroke="#ff0000" stroke-width="0.85" fill="none"/>
<path d="M290 100.6445020853434V114.55549791465658M288.8 100.6445020853434h2.4M288.8 114.55549791465658h2.4" stroke="#ff0000" stroke-width="0.85" fill="none"/>
<path d="M290.3 106.49366170242143V117.50633829757857M289.1 106.49366170242143h2.4M289.1 117.50633829757857h2.4" stroke="#ff0000" stroke-width="0.85" fill="none"/>
<path d="M287 114.44494124265124V122.75505875734875M285.8 114.44494124265124h2.4M285.8 122.75505875734875h2.4" stroke="#ff0000" stroke-width="0.85" fill="none"/>
<path d="M283.7 114.67236381510527V131.32763618489474M282.5 114.67236381510527h2.4M282.5 131.32763618489474h2.4" stroke="#ff0000" stroke-width="0.85" fill="none"/>
<path d="M288.1 119.93625455667267V132.66374544332734M286.90000000000003 119.93625455667267h2.4M286.90000000000003 132.66374544332734h2.4" stroke="#ff0000" stroke-width="0.85" fill="none"/>
<path d="M286 128.60588037967096V143.794119620329M284.8 128.60588037967096h2.4M284.8 143.794119620329h2.4" stroke="#ff0000" stroke-width="0.85" fill="none"/>
<path d="M290 125.60593599872259V142.3940640012774M288.8 125.60593599872259h2.4M288.8 142.3940640012774h2.4" stroke="#ff0000" stroke-width="0.85" fill="none"/>
<path d="M229.9 147.2V173.6M228.70000000000002 147.2h2.4M228.70000000000002 173.6h2.4" stroke="#ff0000" stroke-width="0.85" fill="none"/>
<path d="M237.1 157.229352581944V172.37064741805602M235.9 157.229352581944h2.4M235.9 172.37064741805602h2.4" stroke="#ff0000" stroke-width="0.85" fill="none"/>
<path d="M237.6 163.89450666208063V181.10549333791937M236.4 163.89450666208063h2.4M236.4 181.10549333791937h2.4" stroke="#ff0000" stroke-width="0.85" fill="none"/>
<path d="M242 145V154.9M240.8 145h2.4M240.8 154.9h2.4" stroke="#ff0000" stroke-width="0.85" fill="none"/>
<path d="M255.2 145V182.4M254.0 145h2.4M254.0 182.4h2.4" stroke="#ff0000" stroke-width="0.85" fill="none"/>
<path d="M265 145V164.8M263.8 145h2.4M263.8 164.8h2.4" stroke="#ff0000" stroke-width="0.85" fill="none"/>
<path d="M271 145V188M269.8 145h2.4M269.8 188h2.4" stroke="#ff0000" stroke-width="0.85" fill="none"/>
<path d="M272.3 161.0251829799963V172.9748170200037M271.1 161.0251829799963h2.4M271.1 172.9748170200037h2.4" stroke="#ff0000" stroke-width="0.85" fill="none"/>
<path d="M279.3 145V156M278.1 145h2.4M278.1 156h2.4" stroke="#ff0000" stroke-width="0.85" fill="none"/>
<path d="M288.1 140.29545614507387V156.30454385492615M286.90000000000003 140.29545614507387h2.4M286.90000000000003 156.30454385492615h2.4" stroke="#ff0000" stroke-width="0.85" fill="none"/>
<path d="M61 118V140M59.8 118h2.4M59.8 140h2.4" stroke="#ff0000" stroke-width="0.85" fill="none"/>
<path d="M63.8 120V150M62.599999999999994 120h2.4M62.599999999999994 150h2.4" stroke="#ff0000" stroke-width="0.85" fill="none"/>
<path d="M64.7 125V160M63.5 125h2.4M63.5 160h2.4" stroke="#ff0000" stroke-width="0.85" fill="none"/>
<path d="M65.6 135V160M64.39999999999999 135h2.4M64.39999999999999 160h2.4" stroke="#ff0000" stroke-width="0.85" fill="none"/>
<path d="M67.4 150V175M66.2 150h2.4M66.2 175h2.4" stroke="#ff0000" stroke-width="0.85" fill="none"/>
<path d="M69.8 110V125M68.6 110h2.4M68.6 125h2.4" stroke="#ff0000" stroke-width="0.85" fill="none"/>
<path d="M69.3 135V158M68.1 135h2.4M68.1 158h2.4" stroke="#ff0000" stroke-width="0.85" fill="none"/>
<path d="M75.7 104V118M74.5 104h2.4M74.5 118h2.4" stroke="#ff0000" stroke-width="0.85" fill="none"/>
<path d="M76.6 122V150M75.39999999999999 122h2.4M75.39999999999999 150h2.4" stroke="#ff0000" stroke-width="0.85" fill="none"/>
<path d="M79.4 125V145M78.2 125h2.4M78.2 145h2.4" stroke="#ff0000" stroke-width="0.85" fill="none"/>
<path d="M83 110V128M81.8 110h2.4M81.8 128h2.4" stroke="#ff0000" stroke-width="0.85" fill="none"/>
<path d="M83 118V140M81.8 118h2.4M81.8 140h2.4" stroke="#ff0000" stroke-width="0.85" fill="none"/>
<path d="M84.9 140V160M83.7 140h2.4M83.7 160h2.4" stroke="#ff0000" stroke-width="0.85" fill="none"/>
<path d="M98.1 110V160M96.89999999999999 110h2.4M96.89999999999999 160h2.4" stroke="#ff0000" stroke-width="0.85" fill="none"/>
<path d="M96.3 126V142M95.1 126h2.4M95.1 142h2.4" stroke="#ff0000" stroke-width="0.85" fill="none"/>
<path d="M97.2 136V150M96.0 136h2.4M96.0 150h2.4" stroke="#ff0000" stroke-width="0.85" fill="none"/>
<path d="M93.5 143V158M92.3 143h2.4M92.3 158h2.4" stroke="#ff0000" stroke-width="0.85" fill="none"/>
<path d="M99.9 147V162M98.7 147h2.4M98.7 162h2.4" stroke="#ff0000" stroke-width="0.85" fill="none"/>
<path d="M108.2 146V170M107.0 146h2.4M107.0 170h2.4" stroke="#ff0000" stroke-width="0.85" fill="none"/>
<path d="M113.7 115V160M112.5 115h2.4M112.5 160h2.4" stroke="#ff0000" stroke-width="0.85" fill="none"/>
<path d="M113.7 140V153M112.5 140h2.4M112.5 153h2.4" stroke="#ff0000" stroke-width="0.85" fill="none"/>
<path d="M117.4 110V160M116.2 110h2.4M116.2 160h2.4" stroke="#ff0000" stroke-width="0.85" fill="none"/>
<path d="M117 133V147M115.8 133h2.4M115.8 147h2.4" stroke="#ff0000" stroke-width="0.85" fill="none"/>
<path d="M115.5 146V160M114.3 146h2.4M114.3 160h2.4" stroke="#ff0000" stroke-width="0.85" fill="none"/>
<path d="M118.3 100V125M117.1 100h2.4M117.1 125h2.4" stroke="#ff0000" stroke-width="0.85" fill="none"/>
<path d="M61.9 150V200M60.699999999999996 150h2.4M60.699999999999996 200h2.4" stroke="#ff0000" stroke-width="0.85" fill="none"/>
<path d="M60.1 168V182M58.9 168h2.4M58.9 182h2.4" stroke="#ff0000" stroke-width="0.85" fill="none"/>
<path d="M62.5 176V204M61.3 176h2.4M61.3 204h2.4" stroke="#ff0000" stroke-width="0.85" fill="none"/>
<path d="M67.4 150V170M66.2 150h2.4M66.2 170h2.4" stroke="#ff0000" stroke-width="0.85" fill="none"/>
<path d="M72 158V172M70.8 158h2.4M70.8 172h2.4" stroke="#ff0000" stroke-width="0.85" fill="none"/>
<path d="M72 170V186M70.8 170h2.4M70.8 186h2.4" stroke="#ff0000" stroke-width="0.85" fill="none"/>
<path d="M75.7 160V194M74.5 160h2.4M74.5 194h2.4" stroke="#ff0000" stroke-width="0.85" fill="none"/>
<path d="M78.4 160V196M77.2 160h2.4M77.2 196h2.4" stroke="#ff0000" stroke-width="0.85" fill="none"/>
<path d="M83 145V160M81.8 145h2.4M81.8 160h2.4" stroke="#ff0000" stroke-width="0.85" fill="none"/>
<path d="M93.1 150V186M91.89999999999999 150h2.4M91.89999999999999 186h2.4" stroke="#ff0000" stroke-width="0.85" fill="none"/>
<path d="M93.5 156V172M92.3 156h2.4M92.3 172h2.4" stroke="#ff0000" stroke-width="0.85" fill="none"/>
<path d="M97.2 160V185M96.0 160h2.4M96.0 185h2.4" stroke="#ff0000" stroke-width="0.85" fill="none"/>
<path d="M95.3 192V202M94.1 192h2.4M94.1 202h2.4" stroke="#ff0000" stroke-width="0.85" fill="none"/>
<path d="M99.9 150V165M98.7 150h2.4M98.7 165h2.4" stroke="#ff0000" stroke-width="0.85" fill="none"/>
<path d="M108.2 148V170M107.0 148h2.4M107.0 170h2.4" stroke="#ff0000" stroke-width="0.85" fill="none"/>
<path d="M113.7 164.7V171M112.5 164.7h2.4M112.5 171h2.4" stroke="#ff0000" stroke-width="0.85" fill="none"/>
<path d="M115.5 146V158M114.3 146h2.4M114.3 158h2.4" stroke="#ff0000" stroke-width="0.85" fill="none"/>
<path d="M147.9 96V111M146.70000000000002 96h2.4M146.70000000000002 111h2.4" stroke="#ff0000" stroke-width="0.85" fill="none"/>
<path d="M144.8 105.5V119.3M143.60000000000002 105.5h2.4M143.60000000000002 119.3h2.4" stroke="#ff0000" stroke-width="0.85" fill="none"/>
<path d="M147 112V125.7M145.8 112h2.4M145.8 125.7h2.4" stroke="#ff0000" stroke-width="0.85" fill="none"/>
<path d="M151.6 119.3V134.9M150.4 119.3h2.4M150.4 134.9h2.4" stroke="#ff0000" stroke-width="0.85" fill="none"/>
<path d="M160.8 117.4V134.9M159.60000000000002 117.4h2.4M159.60000000000002 134.9h2.4" stroke="#ff0000" stroke-width="0.85" fill="none"/>
<path d="M163.5 104.6V118.3M162.3 104.6h2.4M162.3 118.3h2.4" stroke="#ff0000" stroke-width="0.85" fill="none"/>
<path d="M167.6 120V152M166.4 120h2.4M166.4 152h2.4" stroke="#ff0000" stroke-width="0.85" fill="none"/>
<path d="M170.9 123V129.4M169.70000000000002 123h2.4M169.70000000000002 129.4h2.4" stroke="#ff0000" stroke-width="0.85" fill="none"/>
<path d="M181.5 107.7V113.8M180.3 107.7h2.4M180.3 113.8h2.4" stroke="#ff0000" stroke-width="0.85" fill="none"/>
<path d="M183.9 117.4V130.3M182.70000000000002 117.4h2.4M182.70000000000002 130.3h2.4" stroke="#ff0000" stroke-width="0.85" fill="none"/>
<path d="M180.3 123V135.8M179.10000000000002 123h2.4M179.10000000000002 135.8h2.4" stroke="#ff0000" stroke-width="0.85" fill="none"/>
<path d="M184.8 141V152M183.60000000000002 141h2.4M183.60000000000002 152h2.4" stroke="#ff0000" stroke-width="0.85" fill="none"/>
<path d="M202.3 115.6V131.2M201.10000000000002 115.6h2.4M201.10000000000002 131.2h2.4" stroke="#ff0000" stroke-width="0.85" fill="none"/>
<path d="M202.3 125V138M201.10000000000002 125h2.4M201.10000000000002 138h2.4" stroke="#ff0000" stroke-width="0.85" fill="none"/>
<path d="M203.6 133V145.9M202.4 133h2.4M202.4 145.9h2.4" stroke="#ff0000" stroke-width="0.85" fill="none"/>
<path d="M191.8 143V155M190.60000000000002 143h2.4M190.60000000000002 155h2.4" stroke="#ff0000" stroke-width="0.85" fill="none"/>
<path d="M154.3 168V180.8M153.10000000000002 168h2.4M153.10000000000002 180.8h2.4" stroke="#ff0000" stroke-width="0.85" fill="none"/>
<path d="M156.6 181.7V200M155.4 181.7h2.4M155.4 200h2.4" stroke="#ff0000" stroke-width="0.85" fill="none"/>
<path d="M168.1 143V156M166.9 143h2.4M166.9 156h2.4" stroke="#ff0000" stroke-width="0.85" fill="none"/>
<path d="M170 163.3V187.2M168.8 163.3h2.4M168.8 187.2h2.4" stroke="#ff0000" stroke-width="0.85" fill="none"/>
<path d="M167.2 154.2V174.4M166.0 154.2h2.4M166.0 174.4h2.4" stroke="#ff0000" stroke-width="0.85" fill="none"/>
<path d="M170.9 173V186M169.70000000000002 173h2.4M169.70000000000002 186h2.4" stroke="#ff0000" stroke-width="0.85" fill="none"/>
<path d="M176 154.2V172.5M174.8 154.2h2.4M174.8 172.5h2.4" stroke="#ff0000" stroke-width="0.85" fill="none"/>
<path d="M190.3 150.5V167M189.10000000000002 150.5h2.4M189.10000000000002 167h2.4" stroke="#ff0000" stroke-width="0.85" fill="none"/>
<path d="M190.3 160V172M189.10000000000002 160h2.4M189.10000000000002 172h2.4" stroke="#ff0000" stroke-width="0.85" fill="none"/>
<path d="M191.3 173.4V196M190.10000000000002 173.4h2.4M190.10000000000002 196h2.4" stroke="#ff0000" stroke-width="0.85" fill="none"/>
<path d="M191.8 178V192M190.60000000000002 178h2.4M190.60000000000002 192h2.4" stroke="#ff0000" stroke-width="0.85" fill="none"/>
<path d="M195 172.5V182.6M193.8 172.5h2.4M193.8 182.6h2.4" stroke="#ff0000" stroke-width="0.85" fill="none"/>
<path d="M199.9 176.2V194.5M198.70000000000002 176.2h2.4M198.70000000000002 194.5h2.4" stroke="#ff0000" stroke-width="0.85" fill="none"/>
<path d="M201.4 145V179.9M200.20000000000002 145h2.4M200.20000000000002 179.9h2.4" stroke="#ff0000" stroke-width="0.85" fill="none"/>
<path d="M204.7 163.3V187.2M203.5 163.3h2.4M203.5 187.2h2.4" stroke="#ff0000" stroke-width="0.85" fill="none"/>
<path d="M206 176.2V190.9M204.8 176.2h2.4M204.8 190.9h2.4" stroke="#ff0000" stroke-width="0.85" fill="none"/>
<path d="M229.4 114.7V144M228.20000000000002 114.7h2.4M228.20000000000002 144h2.4" stroke="#ff0000" stroke-width="0.85" fill="none"/>
<path d="M234.4 103.7V124.8M233.20000000000002 103.7h2.4M233.20000000000002 124.8h2.4" stroke="#ff0000" stroke-width="0.85" fill="none"/>
<path d="M242.3 116.5V150M241.10000000000002 116.5h2.4M241.10000000000002 150h2.4" stroke="#ff0000" stroke-width="0.85" fill="none"/>
<path d="M246.9 120.2V152M245.70000000000002 120.2h2.4M245.70000000000002 152h2.4" stroke="#ff0000" stroke-width="0.85" fill="none"/>
<path d="M251.4 120.2V145.9M250.20000000000002 120.2h2.4M250.20000000000002 145.9h2.4" stroke="#ff0000" stroke-width="0.85" fill="none"/>
<path d="M253.3 100V141.3M252.10000000000002 100h2.4M252.10000000000002 141.3h2.4" stroke="#ff0000" stroke-width="0.85" fill="none"/>
<path d="M258.8 130.3V152M257.6 130.3h2.4M257.6 152h2.4" stroke="#ff0000" stroke-width="0.85" fill="none"/>
<path d="M247.8 103V146M246.60000000000002 103h2.4M246.60000000000002 146h2.4" stroke="#ff0000" stroke-width="0.85" fill="none"/>
<path d="M284.7 85V99.7M283.5 85h2.4M283.5 99.7h2.4" stroke="#ff0000" stroke-width="0.85" fill="none"/>
<path d="M289.3 95V130M288.1 95h2.4M288.1 130h2.4" stroke="#ff0000" stroke-width="0.85" fill="none"/>
<path d="M289 100V135M287.8 100h2.4M287.8 135h2.4" stroke="#ff0000" stroke-width="0.85" fill="none"/>
<path d="M286.5 104V135M285.3 104h2.4M285.3 135h2.4" stroke="#ff0000" stroke-width="0.85" fill="none"/>
<path d="M287.4 116V135M286.2 116h2.4M286.2 135h2.4" stroke="#ff0000" stroke-width="0.85" fill="none"/>
<path d="M281 112V124M279.8 112h2.4M279.8 124h2.4" stroke="#ff0000" stroke-width="0.85" fill="none"/>
<path d="M271.8 124.4V140M270.6 124.4h2.4M270.6 140h2.4" stroke="#ff0000" stroke-width="0.85" fill="none"/>
<path d="M286.5 120V133M285.3 120h2.4M285.3 133h2.4" stroke="#ff0000" stroke-width="0.85" fill="none"/>
<path d="M265.4 136.4V164M264.2 136.4h2.4M264.2 164h2.4" stroke="#ff0000" stroke-width="0.85" fill="none"/>
<path d="M271.8 130V180M270.6 130h2.4M270.6 180h2.4" stroke="#ff0000" stroke-width="0.85" fill="none"/>
<path d="M271.5 153V167M270.3 153h2.4M270.3 167h2.4" stroke="#ff0000" stroke-width="0.85" fill="none"/>
<path d="M271.8 160V175M270.6 160h2.4M270.6 175h2.4" stroke="#ff0000" stroke-width="0.85" fill="none"/>
<path d="M278.8 146.5V155.7M277.6 146.5h2.4M277.6 155.7h2.4" stroke="#ff0000" stroke-width="0.85" fill="none"/>
<path d="M286.5 130V146M285.3 130h2.4M285.3 146h2.4" stroke="#ff0000" stroke-width="0.85" fill="none"/>
<path d="M289.8 131.8V152M288.6 131.8h2.4M288.6 152h2.4" stroke="#ff0000" stroke-width="0.85" fill="none"/>
<path d="M283.5 130V145M282.3 130h2.4M282.3 145h2.4" stroke="#ff0000" stroke-width="0.85" fill="none"/>
<path d="M230.3 147.3V162M229.10000000000002 147.3h2.4M229.10000000000002 162h2.4" stroke="#ff0000" stroke-width="0.85" fill="none"/>
<path d="M230.3 165V177M229.10000000000002 165h2.4M229.10000000000002 177h2.4" stroke="#ff0000" stroke-width="0.85" fill="none"/>
<path d="M237.7 159.3V172.1M236.5 159.3h2.4M236.5 172.1h2.4" stroke="#ff0000" stroke-width="0.85" fill="none"/>
<path d="M237.7 167V180M236.5 167h2.4M236.5 180h2.4" stroke="#ff0000" stroke-width="0.85" fill="none"/>
<path d="M242.3 140V154.7M241.10000000000002 140h2.4M241.10000000000002 154.7h2.4" stroke="#ff0000" stroke-width="0.85" fill="none"/>
<path d="M255.7 150V179.4M254.5 150h2.4M254.5 179.4h2.4" stroke="#ff0000" stroke-width="0.85" fill="none"/>
<rect x="86.6" y="101.8" width="2.8" height="2.8" fill="#000"/>
<rect x="68.6" y="116.1" width="2.8" height="2.8" fill="#000"/>
<rect x="69.0" y="130.4" width="2.8" height="2.8" fill="#000"/>
<rect x="73.0" y="137.0" width="2.8" height="2.8" fill="#000"/>
<rect x="91.19999999999999" y="135.79999999999998" width="2.8" height="2.8" fill="#000"/>
<rect x="103.6" y="127.6" width="2.8" height="2.8" fill="#000"/>
<rect x="104.19999999999999" y="142.0" width="2.8" height="2.8" fill="#000"/>
<rect x="99.3" y="146.79999999999998" width="2.8" height="2.8" fill="#000"/>
<rect x="116.6" y="132.6" width="2.8" height="2.8" fill="#000"/>
<rect x="63.1" y="145.6" width="2.8" height="2.8" fill="#000"/>
<rect x="69.6" y="182.1" width="2.8" height="2.8" fill="#000"/>
<rect x="80.6" y="154.1" width="2.8" height="2.8" fill="#000"/>
<rect x="85.1" y="167.6" width="2.8" height="2.8" fill="#000"/>
<rect x="98.89999999999999" y="146.9" width="2.8" height="2.8" fill="#000"/>
<rect x="98.89999999999999" y="184.1" width="2.8" height="2.8" fill="#000"/>
<rect x="102.6" y="167.6" width="2.8" height="2.8" fill="#000"/>
<rect x="102.6" y="179.9" width="2.8" height="2.8" fill="#000"/>
<rect x="104.19999999999999" y="156.79999999999998" width="2.8" height="2.8" fill="#000"/>
<rect x="116.89999999999999" y="166.6" width="2.8" height="2.8" fill="#000"/>
<rect x="153.0" y="91.89999999999999" width="2.8" height="2.8" fill="#000"/>
<rect x="153.5" y="124.89999999999999" width="2.8" height="2.8" fill="#000"/>
<rect x="176.1" y="106.19999999999999" width="2.8" height="2.8" fill="#000"/>
<rect x="176.1" y="121.6" width="2.8" height="2.8" fill="#000"/>
<rect x="184.9" y="134.79999999999998" width="2.8" height="2.8" fill="#000"/>
<rect x="196.29999999999998" y="123.8" width="2.8" height="2.8" fill="#000"/>
<rect x="199.6" y="134.79999999999998" width="2.8" height="2.8" fill="#000"/>
<rect x="154.6" y="157.9" width="2.8" height="2.8" fill="#000"/>
<rect x="161.2" y="156.79999999999998" width="2.8" height="2.8" fill="#000"/>
<rect x="165.6" y="170.0" width="2.8" height="2.8" fill="#000"/>
<rect x="171.1" y="160.1" width="2.8" height="2.8" fill="#000"/>
<rect x="171.6" y="165.6" width="2.8" height="2.8" fill="#000"/>
<rect x="171.1" y="176.6" width="2.8" height="2.8" fill="#000"/>
<rect x="175.5" y="167.79999999999998" width="2.8" height="2.8" fill="#000"/>
<rect x="161.2" y="188.5" width="2.8" height="2.8" fill="#000"/>
<rect x="181.4" y="165.6" width="2.8" height="2.8" fill="#000"/>
<rect x="183.6" y="148.0" width="2.8" height="2.8" fill="#000"/>
<rect x="183.6" y="161.2" width="2.8" height="2.8" fill="#000"/>
<rect x="183.6" y="188.6" width="2.8" height="2.8" fill="#000"/>
<rect x="196.29999999999998" y="151.29999999999998" width="2.8" height="2.8" fill="#000"/>
<rect x="198.6" y="160.1" width="2.8" height="2.8" fill="#000"/>
<rect x="198.6" y="170.0" width="2.8" height="2.8" fill="#000"/>
<rect x="204.6" y="156.79999999999998" width="2.8" height="2.8" fill="#000"/>
<rect x="244.5" y="48.9" width="2.8" height="2.8" fill="#000"/>
<rect x="221.2" y="92.19999999999999" width="2.8" height="2.8" fill="#000"/>
<rect x="273.6" y="80.8" width="2.8" height="2.8" fill="#000"/>
<rect x="242.79999999999998" y="92.8" width="2.8" height="2.8" fill="#000"/>
<rect x="277.90000000000003" y="93.0" width="2.8" height="2.8" fill="#000"/>
<rect x="277.90000000000003" y="108.39999999999999" width="2.8" height="2.8" fill="#000"/>
<rect x="279.0" y="124.89999999999999" width="2.8" height="2.8" fill="#000"/>
<rect x="279.0" y="132.6" width="2.8" height="2.8" fill="#000"/>
<rect x="230.0" y="127.1" width="2.8" height="2.8" fill="#000"/>
<rect x="238.4" y="106.19999999999999" width="2.8" height="2.8" fill="#000"/>
<rect x="238.4" y="121.6" width="2.8" height="2.8" fill="#000"/>
<rect x="242.79999999999998" y="138.1" width="2.8" height="2.8" fill="#000"/>
<rect x="245.0" y="121.6" width="2.8" height="2.8" fill="#000"/>
<rect x="253.79999999999998" y="124.89999999999999" width="2.8" height="2.8" fill="#000"/>
<rect x="257.1" y="129.29999999999998" width="2.8" height="2.8" fill="#000"/>
<rect x="226.29999999999998" y="156.79999999999998" width="2.8" height="2.8" fill="#000"/>
<rect x="228.5" y="170.0" width="2.8" height="2.8" fill="#000"/>
<rect x="230.0" y="158.6" width="2.8" height="2.8" fill="#000"/>
<rect x="235.1" y="157.9" width="2.8" height="2.8" fill="#000"/>
<rect x="234.4" y="174.4" width="2.8" height="2.8" fill="#000"/>
<rect x="243.9" y="160.1" width="2.8" height="2.8" fill="#000"/>
<rect x="243.2" y="146.9" width="2.8" height="2.8" fill="#000"/>
<rect x="247.2" y="152.4" width="2.8" height="2.8" fill="#000"/>
<rect x="257.1" y="168.9" width="2.8" height="2.8" fill="#000"/>
<rect x="262.6" y="173.29999999999998" width="2.8" height="2.8" fill="#000"/>
<rect x="261.5" y="156.79999999999998" width="2.8" height="2.8" fill="#000"/>
<rect x="279.0" y="144.6" width="2.8" height="2.8" fill="#000"/>
<rect x="282.3" y="156.79999999999998" width="2.8" height="2.8" fill="#000"/>
<rect x="283.40000000000003" y="166.6" width="2.8" height="2.8" fill="#000"/>
<rect x="284.6" y="172.2" width="2.8" height="2.8" fill="#000"/>
<rect x="288.90000000000003" y="170.0" width="2.8" height="2.8" fill="#000"/>
<rect x="68.39999999999999" y="130.6" width="2.8" height="2.8" fill="#000"/>
<rect x="73.39999999999999" y="137.0" width="2.8" height="2.8" fill="#000"/>
<rect x="80.6" y="153.6" width="2.8" height="2.8" fill="#000"/>
<rect x="91.19999999999999" y="136.1" width="2.8" height="2.8" fill="#000"/>
<rect x="99.1" y="147.1" width="2.8" height="2.8" fill="#000"/>
<rect x="104.0" y="126.9" width="2.8" height="2.8" fill="#000"/>
<rect x="104.6" y="142.6" width="2.8" height="2.8" fill="#000"/>
<rect x="103.1" y="157.2" width="2.8" height="2.8" fill="#000"/>
<rect x="116.0" y="132.5" width="2.8" height="2.8" fill="#000"/>
<rect x="81.3" y="155.0" width="2.8" height="2.8" fill="#000"/>
<rect x="85.3" y="167.9" width="2.8" height="2.8" fill="#000"/>
<rect x="70.6" y="187.1" width="2.8" height="2.8" fill="#000"/>
<rect x="73.89999999999999" y="148.6" width="2.8" height="2.8" fill="#000"/>
<rect x="99.1" y="184.4" width="2.8" height="2.8" fill="#000"/>
<rect x="103.1" y="156.9" width="2.8" height="2.8" fill="#000"/>
<rect x="103.1" y="167.9" width="2.8" height="2.8" fill="#000"/>
<rect x="103.1" y="179.79999999999998" width="2.8" height="2.8" fill="#000"/>
<rect x="117.39999999999999" y="166.6" width="2.8" height="2.8" fill="#000"/>
<rect x="153.9" y="125.19999999999999" width="2.8" height="2.8" fill="#000"/>
<rect x="161.2" y="143.6" width="2.8" height="2.8" fill="#000"/>
<rect x="176.1" y="106.89999999999999" width="2.8" height="2.8" fill="#000"/>
<rect x="176.1" y="121.5" width="2.8" height="2.8" fill="#000"/>
<rect x="184.9" y="135.29999999999998" width="2.8" height="2.8" fill="#000"/>
<rect x="184.4" y="147.2" width="2.8" height="2.8" fill="#000"/>
<rect x="196.29999999999998" y="124.3" width="2.8" height="2.8" fill="#000"/>
<rect x="200.29999999999998" y="134.4" width="2.8" height="2.8" fill="#000"/>
<rect x="154.79999999999998" y="157.4" width="2.8" height="2.8" fill="#000"/>
<rect x="161.2" y="156.79999999999998" width="2.8" height="2.8" fill="#000"/>
<rect x="164.9" y="170.2" width="2.8" height="2.8" fill="#000"/>
<rect x="170.4" y="160.1" width="2.8" height="2.8" fill="#000"/>
<rect x="171.29999999999998" y="166.6" width="2.8" height="2.8" fill="#000"/>
<rect x="170.4" y="175.7" width="2.8" height="2.8" fill="#000"/>
<rect x="161.79999999999998" y="187.6" width="2.8" height="2.8" fill="#000"/>
<rect x="174.6" y="168.4" width="2.8" height="2.8" fill="#000"/>
<rect x="171.5" y="159.2" width="2.8" height="2.8" fill="#000"/>
<rect x="171.5" y="165.6" width="2.8" height="2.8" fill="#000"/>
<rect x="171.5" y="175.7" width="2.8" height="2.8" fill="#000"/>
<rect x="181.6" y="165.6" width="2.8" height="2.8" fill="#000"/>
<rect x="183.1" y="161.0" width="2.8" height="2.8" fill="#000"/>
<rect x="183.79999999999998" y="148.2" width="2.8" height="2.8" fill="#000"/>
<rect x="183.1" y="187.6" width="2.8" height="2.8" fill="#000"/>
<rect x="195.4" y="151.9" width="2.8" height="2.8" fill="#000"/>
<rect x="198.5" y="169.29999999999998" width="2.8" height="2.8" fill="#000"/>
<rect x="204.6" y="157.4" width="2.8" height="2.8" fill="#000"/>
<rect x="203.6" y="187.6" width="2.8" height="2.8" fill="#000"/>
<rect x="238.1" y="105.89999999999999" width="2.8" height="2.8" fill="#000"/>
<rect x="238.1" y="120.6" width="2.8" height="2.8" fill="#000"/>
<rect x="229.9" y="126.1" width="2.8" height="2.8" fill="#000"/>
<rect x="244.5" y="137.1" width="2.8" height="2.8" fill="#000"/>
<rect x="253.7" y="125.19999999999999" width="2.8" height="2.8" fill="#000"/>
<rect x="242.7" y="99.6" width="2.8" height="2.8" fill="#000"/>
<rect x="245.5" y="138.6" width="2.8" height="2.8" fill="#000"/>
<rect x="279.6" y="96.39999999999999" width="2.8" height="2.8" fill="#000"/>
<rect x="277.40000000000003" y="107.5" width="2.8" height="2.8" fill="#000"/>
<rect x="275.0" y="89.6" width="2.8" height="2.8" fill="#000"/>
<rect x="280.6" y="127.6" width="2.8" height="2.8" fill="#000"/>
<rect x="285.1" y="117.6" width="2.8" height="2.8" fill="#000"/>
<rect x="261.6" y="157.0" width="2.8" height="2.8" fill="#000"/>
<rect x="262.20000000000005" y="172.6" width="2.8" height="2.8" fill="#000"/>
<rect x="278.70000000000005" y="130.4" width="2.8" height="2.8" fill="#000"/>
<rect x="279.3" y="146.0" width="2.8" height="2.8" fill="#000"/>
<rect x="281.1" y="172.6" width="2.8" height="2.8" fill="#000"/>
<rect x="285.1" y="168.0" width="2.8" height="2.8" fill="#000"/>
<rect x="289.20000000000005" y="170.79999999999998" width="2.8" height="2.8" fill="#000"/>
<rect x="286.0" y="148.79999999999998" width="2.8" height="2.8" fill="#000"/>
<rect x="226.2" y="156.0" width="2.8" height="2.8" fill="#000"/>
<rect x="228.6" y="168.0" width="2.8" height="2.8" fill="#000"/>
<rect x="234.4" y="158.79999999999998" width="2.8" height="2.8" fill="#000"/>
<rect x="234.4" y="174.4" width="2.8" height="2.8" fill="#000"/>
<rect x="236.29999999999998" y="168.0" width="2.8" height="2.8" fill="#000"/>
<rect x="243.29999999999998" y="160.6" width="2.8" height="2.8" fill="#000"/>
<rect x="246.9" y="151.4" width="2.8" height="2.8" fill="#000"/>
<rect x="256.5" y="168.9" width="2.8" height="2.8" fill="#000"/>
<rect x="260.1" y="156.0" width="2.8" height="2.8" fill="#000"/>
<rect x="242.6" y="144.6" width="2.8" height="2.8" fill="#000"/>
<path d="M59.4 96.89999999999999L61.4 100.2L57.4 100.2Z" fill="#ff0000"/>
<path d="M63 106.8L65.0 110.10000000000001L61.0 110.10000000000001Z" fill="#ff0000"/>
<path d="M67.8 101.69999999999999L69.8 105.0L65.8 105.0Z" fill="#ff0000"/>
<path d="M75.9 108.3L77.9 111.60000000000001L73.9 111.60000000000001Z" fill="#ff0000"/>
<path d="M87 102.1L89.0 105.4L85.0 105.4Z" fill="#ff0000"/>
<path d="M98.5 94.69999999999999L100.5 98.0L96.5 98.0Z" fill="#ff0000"/>
<path d="M103.4 96.1L105.4 99.4L101.4 99.4Z" fill="#ff0000"/>
<path d="M97.5 104.6L99.5 107.9L95.5 107.9Z" fill="#ff0000"/>
<path d="M96.4 112.3L98.4 115.60000000000001L94.4 115.60000000000001Z" fill="#ff0000"/>
<path d="M98 120.0L100.0 123.30000000000001L96.0 123.30000000000001Z" fill="#ff0000"/>
<path d="M118 109.39999999999999L120.0 112.7L116.0 112.7Z" fill="#ff0000"/>
<path d="M82.5 115.6L84.5 118.9L80.5 118.9Z" fill="#ff0000"/>
<path d="M62.3 124.39999999999999L64.3 127.7L60.3 127.7Z" fill="#ff0000"/>
<path d="M64.5 134.1L66.5 137.4L62.5 137.4Z" fill="#ff0000"/>
<path d="M78.3 131.0L80.3 134.3L76.3 134.3Z" fill="#ff0000"/>
<path d="M96.8 138.6L98.8 141.9L94.8 141.9Z" fill="#ff0000"/>
<path d="M112.8 127.1L114.8 130.4L110.8 130.4Z" fill="#ff0000"/>
<path d="M114 144.1L116.0 147.4L112.0 147.4Z" fill="#ff0000"/>
<path d="M84.3 146.29999999999998L86.3 149.6L82.3 149.6Z" fill="#ff0000"/>
<path d="M81.6 60.7L83.6 64.0L79.6 64.0Z" fill="#ff0000"/>
<path d="M88.4 60.7L90.4 64.0L86.4 64.0Z" fill="#ff0000"/>
<path d="M93.2 60.7L95.2 64.0L91.2 64.0Z" fill="#ff0000"/>
<path d="M61.2 161.79999999999998L63.2 165.1L59.2 165.1Z" fill="#ff0000"/>
<path d="M60 172.79999999999998L62.0 176.1L58.0 176.1Z" fill="#ff0000"/>
<path d="M62.3 183.79999999999998L64.3 187.1L60.3 187.1Z" fill="#ff0000"/>
<path d="M67.3 154.1L69.3 157.4L65.3 157.4Z" fill="#ff0000"/>
<path d="M72.2 164.0L74.2 167.3L70.2 167.3Z" fill="#ff0000"/>
<path d="M75.5 171.7L77.5 175.0L73.5 175.0Z" fill="#ff0000"/>
<path d="M78.8 170.6L80.8 173.9L76.8 173.9Z" fill="#ff0000"/>
<path d="M84.3 155.1L86.3 158.4L82.3 158.4Z" fill="#ff0000"/>
<path d="M93 156.29999999999998L95.0 159.6L91.0 159.6Z" fill="#ff0000"/>
<path d="M93.7 162.9L95.7 166.20000000000002L91.7 166.20000000000002Z" fill="#ff0000"/>
<path d="M95.3 193.5L97.3 196.8L93.3 196.8Z" fill="#ff0000"/>
<path d="M108.4 151.9L110.4 155.20000000000002L106.4 155.20000000000002Z" fill="#ff0000"/>
<path d="M114 165.1L116.0 168.4L112.0 168.4Z" fill="#ff0000"/>
<path d="M182.8 79.1L184.8 82.4L180.8 82.4Z" fill="#ff0000"/>
<path d="M158.2 86.8L160.2 90.10000000000001L156.2 90.10000000000001Z" fill="#ff0000"/>
<path d="M147.6 94.1L149.6 97.4L145.6 97.4Z" fill="#ff0000"/>
<path d="M157.7 88.1L159.7 91.4L155.7 91.4Z" fill="#ff0000"/>
<path d="M144.5 110.1L146.5 113.4L142.5 113.4Z" fill="#ff0000"/>
<path d="M147.6 101.69999999999999L149.6 105.0L145.6 105.0Z" fill="#ff0000"/>
<path d="M147.2 117.8L149.2 121.10000000000001L145.2 121.10000000000001Z" fill="#ff0000"/>
<path d="M151.6 124.39999999999999L153.6 127.7L149.6 127.7Z" fill="#ff0000"/>
<path d="M163.7 109.6L165.7 112.9L161.7 112.9Z" fill="#ff0000"/>
<path d="M161.5 124.39999999999999L163.5 127.7L159.5 127.7Z" fill="#ff0000"/>
<path d="M167.4 128.79999999999998L169.4 132.1L165.4 132.1Z" fill="#ff0000"/>
<path d="M171.4 124.39999999999999L173.4 127.7L169.4 127.7Z" fill="#ff0000"/>
<path d="M181.3 107.39999999999999L183.3 110.7L179.3 110.7Z" fill="#ff0000"/>
<path d="M184 121.1L186.0 124.4L182.0 124.4Z" fill="#ff0000"/>
<path d="M180.6 126.6L182.6 129.9L178.6 129.9Z" fill="#ff0000"/>
<path d="M185.6 126.6L187.6 129.9L183.6 129.9Z" fill="#ff0000"/>
<path d="M185.6 140.79999999999998L187.6 144.1L183.6 144.1Z" fill="#ff0000"/>
<path d="M202 120.6L204.0 123.9L200.0 123.9Z" fill="#ff0000"/>
<path d="M201 128.79999999999998L203.0 132.1L199.0 132.1Z" fill="#ff0000"/>
<path d="M203.9 135.4L205.9 138.70000000000002L201.9 138.70000000000002Z" fill="#ff0000"/>
<path d="M191.6 146.29999999999998L193.6 149.6L189.6 149.6Z" fill="#ff0000"/>
<path d="M167.4 147.5L169.4 150.8L165.4 150.8Z" fill="#ff0000"/>
<path d="M168 157.4L170.0 160.70000000000002L166.0 160.70000000000002Z" fill="#ff0000"/>
<path d="M170.3 173.9L172.3 177.20000000000002L168.3 177.20000000000002Z" fill="#ff0000"/>
<path d="M175.8 160.7L177.8 164.0L173.8 164.0Z" fill="#ff0000"/>
<path d="M154.9 172.79999999999998L156.9 176.1L152.9 176.1Z" fill="#ff0000"/>
<path d="M157 187.1L159.0 190.4L155.0 190.4Z" fill="#ff0000"/>
<path d="M191.6 153.0L193.6 156.3L189.6 156.3Z" fill="#ff0000"/>
<path d="M191.1 164.0L193.1 167.3L189.1 167.3Z" fill="#ff0000"/>
<path d="M191.6 179.4L193.6 182.70000000000002L189.6 182.70000000000002Z" fill="#ff0000"/>
<path d="M192.2 183.79999999999998L194.2 187.1L190.2 187.1Z" fill="#ff0000"/>
<path d="M195 175.0L197.0 178.3L193.0 178.3Z" fill="#ff0000"/>
<path d="M201 147.5L203.0 150.8L199.0 150.8Z" fill="#ff0000"/>
<path d="M200 181.6L202.0 184.9L198.0 184.9Z" fill="#ff0000"/>
<path d="M204.3 168.4L206.3 171.70000000000002L202.3 171.70000000000002Z" fill="#ff0000"/>
<path d="M206 181.6L208.0 184.9L204.0 184.9Z" fill="#ff0000"/>
<path d="M186.7 144.1L188.7 147.4L184.7 147.4Z" fill="#ff0000"/>
<path d="M284.8 88.1L286.8 91.4L282.8 91.4Z" fill="#ff0000"/>
<path d="M288 89.1L290.0 92.4L286.0 92.4Z" fill="#ff0000"/>
<path d="M229.2 124.39999999999999L231.2 127.7L227.2 127.7Z" fill="#ff0000"/>
<path d="M234.3 111.1L236.3 114.4L232.3 114.4Z" fill="#ff0000"/>
<path d="M242 124.39999999999999L244.0 127.7L240.0 127.7Z" fill="#ff0000"/>
<path d="M247.5 131.0L249.5 134.3L245.5 134.3Z" fill="#ff0000"/>
<path d="M250.8 123.3L252.8 126.60000000000001L248.8 126.60000000000001Z" fill="#ff0000"/>
<path d="M253.4 115.6L255.4 118.9L251.4 118.9Z" fill="#ff0000"/>
<path d="M258.5 133.1L260.5 136.4L256.5 136.4Z" fill="#ff0000"/>
<path d="M265 147.4L267.0 150.70000000000002L263.0 150.70000000000002Z" fill="#ff0000"/>
<path d="M272.3 132.1L274.3 135.4L270.3 135.4Z" fill="#ff0000"/>
<path d="M290 105.69999999999999L292.0 109.0L288.0 109.0Z" fill="#ff0000"/>
<path d="M290.3 110.1L292.3 113.4L288.3 113.4Z" fill="#ff0000"/>
<path d="M287 116.69999999999999L289.0 120.0L285.0 120.0Z" fill="#ff0000"/>
<path d="M283.7 121.1L285.7 124.4L281.7 124.4Z" fill="#ff0000"/>
<path d="M288.1 124.39999999999999L290.1 127.7L286.1 127.7Z" fill="#ff0000"/>
<path d="M286 134.29999999999998L288.0 137.6L284.0 137.6Z" fill="#ff0000"/>
<path d="M290 132.1L292.0 135.4L288.0 135.4Z" fill="#ff0000"/>
<path d="M229.9 159.6L231.9 162.9L227.9 162.9Z" fill="#ff0000"/>
<path d="M237.1 162.9L239.1 166.20000000000002L235.1 166.20000000000002Z" fill="#ff0000"/>
<path d="M237.6 170.6L239.6 173.9L235.6 173.9Z" fill="#ff0000"/>
<path d="M242 149.7L244.0 153.0L240.0 153.0Z" fill="#ff0000"/>
<path d="M255.2 151.9L257.2 155.20000000000002L253.2 155.20000000000002Z" fill="#ff0000"/>
<path d="M265 146.4L267.0 149.70000000000002L263.0 149.70000000000002Z" fill="#ff0000"/>
<path d="M271 156.29999999999998L273.0 159.6L269.0 159.6Z" fill="#ff0000"/>
<path d="M272.3 165.1L274.3 168.4L270.3 168.4Z" fill="#ff0000"/>
<path d="M279.3 146.4L281.3 149.70000000000002L277.3 149.70000000000002Z" fill="#ff0000"/>
<path d="M288.1 146.4L290.1 149.70000000000002L286.1 149.70000000000002Z" fill="#ff0000"/>
<path d="M61 124.6L63.0 127.9L59.0 127.9Z" fill="#ff0000"/>
<path d="M63.8 129.2L65.8 132.5L61.8 132.5Z" fill="#ff0000"/>
<path d="M64.7 134.7L66.7 138.0L62.7 138.0Z" fill="#ff0000"/>
<path d="M65.6 143.9L67.6 147.20000000000002L63.599999999999994 147.20000000000002Z" fill="#ff0000"/>
<path d="M67.4 156.7L69.4 160.0L65.4 160.0Z" fill="#ff0000"/>
<path d="M69.8 114.5L71.8 117.80000000000001L67.8 117.80000000000001Z" fill="#ff0000"/>
<path d="M69.3 143.9L71.3 147.20000000000002L67.3 147.20000000000002Z" fill="#ff0000"/>
<path d="M75.7 109.1L77.7 112.4L73.7 112.4Z" fill="#ff0000"/>
<path d="M76.6 132.0L78.6 135.3L74.6 135.3Z" fill="#ff0000"/>
<path d="M79.4 131.1L81.4 134.4L77.4 134.4Z" fill="#ff0000"/>
<path d="M83 115.39999999999999L85.0 118.7L81.0 118.7Z" fill="#ff0000"/>
<path d="M83 124.6L85.0 127.9L81.0 127.9Z" fill="#ff0000"/>
<path d="M84.9 147.5L86.9 150.8L82.9 150.8Z" fill="#ff0000"/>
<path d="M98.1 117.3L100.1 120.60000000000001L96.1 120.60000000000001Z" fill="#ff0000"/>
<path d="M96.3 132.0L98.3 135.3L94.3 135.3Z" fill="#ff0000"/>
<path d="M97.2 141.1L99.2 144.4L95.2 144.4Z" fill="#ff0000"/>
<path d="M93.5 148.5L95.5 151.8L91.5 151.8Z" fill="#ff0000"/>
<path d="M99.9 152.1L101.9 155.4L97.9 155.4Z" fill="#ff0000"/>
<path d="M108.2 150.29999999999998L110.2 153.6L106.2 153.6Z" fill="#ff0000"/>
<path d="M113.7 126.4L115.7 129.70000000000002L111.7 129.70000000000002Z" fill="#ff0000"/>
<path d="M113.7 144.79999999999998L115.7 148.1L111.7 148.1Z" fill="#ff0000"/>
<path d="M117.4 132.0L119.4 135.3L115.4 135.3Z" fill="#ff0000"/>
<path d="M117 138.4L119.0 141.70000000000002L115.0 141.70000000000002Z" fill="#ff0000"/>
<path d="M115.5 150.29999999999998L117.5 153.6L113.5 153.6Z" fill="#ff0000"/>
<path d="M118.3 109.1L120.3 112.4L116.3 112.4Z" fill="#ff0000"/>
<path d="M61.9 161.9L63.9 165.20000000000002L59.9 165.20000000000002Z" fill="#ff0000"/>
<path d="M60.1 172.9L62.1 176.20000000000002L58.1 176.20000000000002Z" fill="#ff0000"/>
<path d="M62.5 183.0L64.5 186.3L60.5 186.3Z" fill="#ff0000"/>
<path d="M67.4 153.6L69.4 156.9L65.4 156.9Z" fill="#ff0000"/>
<path d="M72 162.79999999999998L74.0 166.1L70.0 166.1Z" fill="#ff0000"/>
<path d="M72 175.6L74.0 178.9L70.0 178.9Z" fill="#ff0000"/>
<path d="M75.7 171.0L77.7 174.3L73.7 174.3Z" fill="#ff0000"/>
<path d="M78.4 171.0L80.4 174.3L76.4 174.3Z" fill="#ff0000"/>
<path d="M83 149.1L85.0 152.4L81.0 152.4Z" fill="#ff0000"/>
<path d="M93.1 155.4L95.1 158.70000000000002L91.1 158.70000000000002Z" fill="#ff0000"/>
<path d="M93.5 161.9L95.5 165.20000000000002L91.5 165.20000000000002Z" fill="#ff0000"/>
<path d="M97.2 166.4L99.2 169.70000000000002L95.2 169.70000000000002Z" fill="#ff0000"/>
<path d="M95.3 193.1L97.3 196.4L93.3 196.4Z" fill="#ff0000"/>
<path d="M99.9 153.6L101.9 156.9L97.9 156.9Z" fill="#ff0000"/>
<path d="M108.2 151.79999999999998L110.2 155.1L106.2 155.1Z" fill="#ff0000"/>
<path d="M113.7 166.4L115.7 169.70000000000002L111.7 169.70000000000002Z" fill="#ff0000"/>
<path d="M115.5 149.9L117.5 153.20000000000002L113.5 153.20000000000002Z" fill="#ff0000"/>
<path d="M147.9 100.89999999999999L149.9 104.2L145.9 104.2Z" fill="#ff0000"/>
<path d="M144.8 110.0L146.8 113.30000000000001L142.8 113.30000000000001Z" fill="#ff0000"/>
<path d="M147 117.39999999999999L149.0 120.7L145.0 120.7Z" fill="#ff0000"/>
<path d="M151.6 124.69999999999999L153.6 128.0L149.6 128.0Z" fill="#ff0000"/>
<path d="M160.8 124.69999999999999L162.8 128.0L158.8 128.0Z" fill="#ff0000"/>
<path d="M163.5 109.1L165.5 112.4L161.5 112.4Z" fill="#ff0000"/>
<path d="M167.6 128.4L169.6 131.70000000000002L165.6 131.70000000000002Z" fill="#ff0000"/>
<path d="M170.9 124.69999999999999L172.9 128.0L168.9 128.0Z" fill="#ff0000"/>
<path d="M181.5 109.1L183.5 112.4L179.5 112.4Z" fill="#ff0000"/>
<path d="M183.9 122.0L185.9 125.30000000000001L181.9 125.30000000000001Z" fill="#ff0000"/>
<path d="M180.3 126.5L182.3 129.8L178.3 129.8Z" fill="#ff0000"/>
<path d="M184.8 142.1L186.8 145.4L182.8 145.4Z" fill="#ff0000"/>
<path d="M202.3 121.0L204.3 124.30000000000001L200.3 124.30000000000001Z" fill="#ff0000"/>
<path d="M202.3 129.29999999999998L204.3 132.6L200.3 132.6Z" fill="#ff0000"/>
<path d="M203.6 136.6L205.6 139.9L201.6 139.9Z" fill="#ff0000"/>
<path d="M191.8 146.7L193.8 150.0L189.8 150.0Z" fill="#ff0000"/>
<path d="M154.3 173.4L156.3 176.70000000000002L152.3 176.70000000000002Z" fill="#ff0000"/>
<path d="M156.6 187.1L158.6 190.4L154.6 190.4Z" fill="#ff0000"/>
<path d="M168.1 146.79999999999998L170.1 150.1L166.1 150.1Z" fill="#ff0000"/>
<path d="M170 175.2L172.0 178.5L168.0 178.5Z" fill="#ff0000"/>
<path d="M167.2 157.79999999999998L169.2 161.1L165.2 161.1Z" fill="#ff0000"/>
<path d="M170.9 178.0L172.9 181.3L168.9 181.3Z" fill="#ff0000"/>
<path d="M176 161.4L178.0 164.70000000000002L174.0 164.70000000000002Z" fill="#ff0000"/>
<path d="M190.3 153.2L192.3 156.5L188.3 156.5Z" fill="#ff0000"/>
<path d="M190.3 164.2L192.3 167.5L188.3 167.5Z" fill="#ff0000"/>
<path d="M191.3 179.79999999999998L193.3 183.1L189.3 183.1Z" fill="#ff0000"/>
<path d="M191.8 182.5L193.8 185.8L189.8 185.8Z" fill="#ff0000"/>
<path d="M195 175.2L197.0 178.5L193.0 178.5Z" fill="#ff0000"/>
<path d="M199.9 181.6L201.9 184.9L197.9 184.9Z" fill="#ff0000"/>
<path d="M201.4 147.7L203.4 151.0L199.4 151.0Z" fill="#ff0000"/>
<path d="M204.7 168.79999999999998L206.7 172.1L202.7 172.1Z" fill="#ff0000"/>
<path d="M206 180.7L208.0 184.0L204.0 184.0Z" fill="#ff0000"/>
<path d="M229.4 124.69999999999999L231.4 128.0L227.4 128.0Z" fill="#ff0000"/>
<path d="M234.4 111.89999999999999L236.4 115.2L232.4 115.2Z" fill="#ff0000"/>
<path d="M242.3 125.6L244.3 128.9L240.3 128.9Z" fill="#ff0000"/>
<path d="M246.9 131.1L248.9 134.4L244.9 134.4Z" fill="#ff0000"/>
<path d="M251.4 122.0L253.4 125.30000000000001L249.4 125.30000000000001Z" fill="#ff0000"/>
<path d="M253.3 111.89999999999999L255.3 115.2L251.3 115.2Z" fill="#ff0000"/>
<path d="M258.8 133.9L260.8 137.20000000000002L256.8 137.20000000000002Z" fill="#ff0000"/>
<path d="M247.8 118.1L249.8 121.4L245.8 121.4Z" fill="#ff0000"/>
<path d="M284.7 88.6L286.7 91.9L282.7 91.9Z" fill="#ff0000"/>
<path d="M289.3 99.6L291.3 102.9L287.3 102.9Z" fill="#ff0000"/>
<path d="M289 107.0L291.0 110.30000000000001L287.0 110.30000000000001Z" fill="#ff0000"/>
<path d="M286.5 111.5L288.5 114.80000000000001L284.5 114.80000000000001Z" fill="#ff0000"/>
<path d="M287.4 120.69999999999999L289.4 124.0L285.4 124.0Z" fill="#ff0000"/>
<path d="M281 116.1L283.0 119.4L279.0 119.4Z" fill="#ff0000"/>
<path d="M271.8 131.7L273.8 135.0L269.8 135.0Z" fill="#ff0000"/>
<path d="M286.5 124.39999999999999L288.5 127.7L284.5 127.7Z" fill="#ff0000"/>
<path d="M265.4 146.4L267.4 149.70000000000002L263.4 149.70000000000002Z" fill="#ff0000"/>
<path d="M271.8 155.6L273.8 158.9L269.8 158.9Z" fill="#ff0000"/>
<path d="M271.5 158.4L273.5 161.70000000000002L269.5 161.70000000000002Z" fill="#ff0000"/>
<path d="M271.8 165.7L273.8 169.0L269.8 169.0Z" fill="#ff0000"/>
<path d="M278.8 148.29999999999998L280.8 151.6L276.8 151.6Z" fill="#ff0000"/>
<path d="M286.5 136.4L288.5 139.70000000000002L284.5 139.70000000000002Z" fill="#ff0000"/>
<path d="M289.8 135.4L291.8 138.70000000000002L287.8 138.70000000000002Z" fill="#ff0000"/>
<path d="M283.5 133.1L285.5 136.4L281.5 136.4Z" fill="#ff0000"/>
<path d="M230.3 155.5L232.3 158.8L228.3 158.8Z" fill="#ff0000"/>
<path d="M230.3 169.29999999999998L232.3 172.6L228.3 172.6Z" fill="#ff0000"/>
<path d="M237.7 160.1L239.7 163.4L235.7 163.4Z" fill="#ff0000"/>
<path d="M237.7 171.1L239.7 174.4L235.7 174.4Z" fill="#ff0000"/>
<path d="M242.3 152.79999999999998L244.3 156.1L240.3 156.1Z" fill="#ff0000"/>
<path d="M255.7 151.9L257.7 155.20000000000002L253.7 155.20000000000002Z" fill="#ff0000"/>
<line x1="51.1" y1="126.4" x2="125.5" y2="126.4" stroke="#000" stroke-width="1.5" stroke-dasharray="6 4.3"/>
<line x1="51.1" y1="188.6" x2="125.5" y2="188.6" stroke="#000" stroke-width="1.5" stroke-dasharray="6 4.3"/>
<line x1="136.9" y1="126.4" x2="211.7" y2="126.4" stroke="#000" stroke-width="1.5" stroke-dasharray="6 4.3"/>
<line x1="136.9" y1="188.6" x2="211.7" y2="188.6" stroke="#000" stroke-width="1.5" stroke-dasharray="6 4.3"/>
<line x1="224.0" y1="126.4" x2="298.3" y2="126.4" stroke="#000" stroke-width="1.5" stroke-dasharray="6 4.3"/>
<line x1="224.0" y1="188.6" x2="298.3" y2="188.6" stroke="#000" stroke-width="1.5" stroke-dasharray="6 4.3"/>
<rect x="51.1" y="36.6" width="74.4" height="198.8" fill="none" stroke="#000" stroke-width="1.7"/>
<rect x="136.9" y="36.6" width="74.79999999999998" height="198.8" fill="none" stroke="#000" stroke-width="1.7"/>
<rect x="224.0" y="36.6" width="74.30000000000001" height="198.8" fill="none" stroke="#000" stroke-width="1.7"/>
<path d="M51.1 199.6h2.2M125.5 199.6h-2.2" stroke="#000" stroke-width="1"/>
<path d="M51.1 179.0h2.2M125.5 179.0h-2.2" stroke="#000" stroke-width="1"/>
<path d="M51.1 164.4h2.2M125.5 164.4h-2.2" stroke="#000" stroke-width="1"/>
<path d="M51.1 153.1h2.2M125.5 153.1h-2.2" stroke="#000" stroke-width="1"/>
<path d="M51.1 143.9h2.2M125.5 143.9h-2.2" stroke="#000" stroke-width="1"/>
<path d="M51.1 136.1h2.2M125.5 136.1h-2.2" stroke="#000" stroke-width="1"/>
<path d="M51.1 129.3h2.2M125.5 129.3h-2.2" stroke="#000" stroke-width="1"/>
<path d="M51.1 123.3h2.2M125.5 123.3h-2.2" stroke="#000" stroke-width="1"/>
<path d="M51.1 118.0h3.5M125.5 118.0h-3.5" stroke="#000" stroke-width="1"/>
<path d="M51.1 82.9h2.2M125.5 82.9h-2.2" stroke="#000" stroke-width="1"/>
<path d="M51.1 62.3h2.2M125.5 62.3h-2.2" stroke="#000" stroke-width="1"/>
<path d="M51.1 47.7h2.2M125.5 47.7h-2.2" stroke="#000" stroke-width="1"/>
<path d="M136.9 199.6h2.2M211.7 199.6h-2.2" stroke="#000" stroke-width="1"/>
<path d="M136.9 179.0h2.2M211.7 179.0h-2.2" stroke="#000" stroke-width="1"/>
<path d="M136.9 164.4h2.2M211.7 164.4h-2.2" stroke="#000" stroke-width="1"/>
<path d="M136.9 153.1h2.2M211.7 153.1h-2.2" stroke="#000" stroke-width="1"/>
<path d="M136.9 143.9h2.2M211.7 143.9h-2.2" stroke="#000" stroke-width="1"/>
<path d="M136.9 136.1h2.2M211.7 136.1h-2.2" stroke="#000" stroke-width="1"/>
<path d="M136.9 129.3h2.2M211.7 129.3h-2.2" stroke="#000" stroke-width="1"/>
<path d="M136.9 123.3h2.2M211.7 123.3h-2.2" stroke="#000" stroke-width="1"/>
<path d="M136.9 118.0h3.5M211.7 118.0h-3.5" stroke="#000" stroke-width="1"/>
<path d="M136.9 82.9h2.2M211.7 82.9h-2.2" stroke="#000" stroke-width="1"/>
<path d="M136.9 62.3h2.2M211.7 62.3h-2.2" stroke="#000" stroke-width="1"/>
<path d="M136.9 47.7h2.2M211.7 47.7h-2.2" stroke="#000" stroke-width="1"/>
<path d="M224.0 199.6h2.2M298.3 199.6h-2.2" stroke="#000" stroke-width="1"/>
<path d="M224.0 179.0h2.2M298.3 179.0h-2.2" stroke="#000" stroke-width="1"/>
<path d="M224.0 164.4h2.2M298.3 164.4h-2.2" stroke="#000" stroke-width="1"/>
<path d="M224.0 153.1h2.2M298.3 153.1h-2.2" stroke="#000" stroke-width="1"/>
<path d="M224.0 143.9h2.2M298.3 143.9h-2.2" stroke="#000" stroke-width="1"/>
<path d="M224.0 136.1h2.2M298.3 136.1h-2.2" stroke="#000" stroke-width="1"/>
<path d="M224.0 129.3h2.2M298.3 129.3h-2.2" stroke="#000" stroke-width="1"/>
<path d="M224.0 123.3h2.2M298.3 123.3h-2.2" stroke="#000" stroke-width="1"/>
<path d="M224.0 118.0h3.5M298.3 118.0h-3.5" stroke="#000" stroke-width="1"/>
<path d="M224.0 82.9h2.2M298.3 82.9h-2.2" stroke="#000" stroke-width="1"/>
<path d="M224.0 62.3h2.2M298.3 62.3h-2.2" stroke="#000" stroke-width="1"/>
<path d="M224.0 47.7h2.2M298.3 47.7h-2.2" stroke="#000" stroke-width="1"/>
<path d="M77.8 235.4v-2.2M77.8 36.6v2.2" stroke="#000" stroke-width="1"/>
<path d="M105.2 235.4v-3.5M105.2 36.6v3.5" stroke="#000" stroke-width="1"/>
<path d="M145.4 235.4v-3.5M145.4 36.6v3.5" stroke="#000" stroke-width="1"/>
<path d="M178.8 235.4v-2.2M178.8 36.6v2.2" stroke="#000" stroke-width="1"/>
<path d="M246.3 235.4v-3.5M246.3 36.6v3.5" stroke="#000" stroke-width="1"/>
<path d="M269.7 235.4v-2.2M269.7 36.6v2.2" stroke="#000" stroke-width="1"/>
<path d="M292.4 235.4v-3.6M292.4 36.6v3.6" stroke="#000" stroke-width="1"/>
<g font-family="Liberation Sans, sans-serif" font-weight="bold" stroke="#000" stroke-width="0.2">
<text x="9.8" y="13.9" font-size="13.4" text-anchor="start" fill="#000" stroke="#000" >(a)</text>
<text x="177.7" y="14.6" font-size="13.25" text-anchor="middle" fill="#000" stroke="#000" >Wavelength (nm)</text>
<text x="51" y="29.6" font-size="11.2" text-anchor="middle" fill="#000" stroke="#000" >816</text>
<text x="106" y="29.6" font-size="11.2" text-anchor="middle" fill="#000" stroke="#000" >795</text>
<text x="145.7" y="29.6" font-size="11.2" text-anchor="middle" fill="#000" stroke="#000" >756</text>
<text x="211.6" y="29.6" font-size="11.2" text-anchor="middle" fill="#000" stroke="#000" >738</text>
<text x="246.7" y="29.6" font-size="11.2" text-anchor="middle" fill="#000" stroke="#000" >705</text>
<text x="292.8" y="29.6" font-size="11.2" text-anchor="middle" fill="#000" stroke="#000" >689</text>
<text x="54.3" y="249.0" font-size="11.2" text-anchor="middle" fill="#000" stroke="#000" >1.52</text>
<text x="108" y="249.0" font-size="11.2" text-anchor="middle" fill="#000" stroke="#000" >1.56</text>
<text x="146" y="249.0" font-size="11.2" text-anchor="middle" fill="#000" stroke="#000" >1.64</text>
<text x="212.3" y="249.0" font-size="11.2" text-anchor="middle" fill="#000" stroke="#000" >1.68</text>
<text x="246.4" y="249.0" font-size="11.2" text-anchor="middle" fill="#000" stroke="#000" >1.76</text>
<text x="291.8" y="249.0" font-size="11.2" text-anchor="middle" fill="#000" stroke="#000" >1.80</text>
<text x="174.8" y="265.9" font-size="13.3" text-anchor="middle" fill="#000" stroke="#000" >Energy (eV)</text>
<text x="46" y="119.2" font-size="11.2" text-anchor="end" fill="#000" stroke="#000" >1</text>
<text x="46" y="235.5" font-size="11.2" text-anchor="end" fill="#000" stroke="#000" >0.1</text>
<text transform="translate(24.7,135.1) rotate(-90)" font-size="13.25" text-anchor="middle">FWHM (meV)</text>
<rect x="147.2" y="45.6" width="2.8" height="2.8" fill="#000"/>
<path d="M148.3 56.8L150.5 60.3L146.1 60.3Z" fill="#ff0000"/>
<text x="208.7" y="50.3" font-size="8.7" text-anchor="end" fill="#000" stroke="#000" >0° pol [110]</text>
<text x="208.7" y="62.5" font-size="8.7" text-anchor="end" fill="#000" stroke="#000" >90° pol [110]</text>
<line x1="192" y1="54.4" x2="196.4" y2="54.4" stroke="#000" stroke-width="0.8"/>
<text x="151.6" y="72" font-size="7.6" text-anchor="start" fill="#000" stroke="#000" >Single Si QDs</text>
<text x="256.3" y="53.1" font-size="10.3" text-anchor="start" fill="#000" stroke="#000" >T=10 K</text>
<text x="228.1" y="120.2" font-size="7.25" text-anchor="start" fill="#000" stroke="#000" >thermal energy</text>
<text x="226.6" y="200.1" font-size="7.2" text-anchor="start" fill="#000" stroke="#000" >resolution limit</text>
</g>
<clipPath id="cb"><rect x="385.2" y="36.2" width="231.8" height="199.2"/></clipPath>
<g clip-path="url(#cb)">
<line x1="392" y1="224.2" x2="614.2" y2="133.6" stroke="#e5522a" stroke-width="1.5"/>
<path d="M392 223.2 C395.00 223.20 404.50 223.30 410 223.2 C415.50 223.10 420.57 223.07 425 222.6 C429.43 222.13 433.02 221.32 436.6 220.4 C440.18 219.48 442.10 218.60 446.5 217.1 C450.90 215.60 457.52 213.45 463 211.4 C468.48 209.35 474.90 206.58 479.4 204.8 C483.90 203.02 486.57 202.03 490 200.7 C493.43 199.37 495.00 198.92 500 196.8 C505.00 194.68 513.33 191.13 520 188 C526.67 184.87 533.33 181.33 540 178 C546.67 174.67 552.17 171.83 560 168 C567.83 164.17 577.93 159.45 587 155 C596.07 150.55 609.83 143.58 614.4 141.3" stroke="#578848" stroke-width="1.5" fill="none" stroke-linecap="round"/>
</g>
<path d="M434.9 207.4V216.4M432.29999999999995 207.4h5.2M432.29999999999995 216.4h5.2" stroke="#e5522a" stroke-width="1.1" fill="none"/>
<path d="M484.8 178.3V201.4M482.2 178.3h5.2M482.2 201.4h5.2" stroke="#e5522a" stroke-width="1.1" fill="none"/>
<path d="M599.5 85.6V140M596.9 85.6h5.2M596.9 140h5.2" stroke="#e5522a" stroke-width="1.1" fill="none"/>
<path d="M599.5 137.2V155.1M597.6 137.2h3.8M597.6 155.1h3.8" stroke="#578848" stroke-width="1.1" fill="none"/>
<circle cx="392.1" cy="221.7" r="2.9" fill="#e5522a"/>
<circle cx="434.9" cy="212.3" r="2.9" fill="#e5522a"/>
<circle cx="484.8" cy="189.8" r="2.9" fill="#e5522a"/>
<circle cx="599.5" cy="117.7" r="2.9" fill="#e5522a"/>
<rect x="389.5" y="220.4" width="5.2" height="5.2" fill="#578848"/>
<rect x="432.29999999999995" y="217.4" width="5.2" height="5.2" fill="#578848"/>
<rect x="596.9" y="144.3" width="5.2" height="5.2" fill="#578848"/>
<rect x="385.2" y="36.2" width="231.8" height="199.2" fill="none" stroke="#000" stroke-width="1.8"/>
<path d="M402.5 235.4v-2.2M402.5 36.2v2.2" stroke="#000" stroke-width="1"/>
<path d="M420.5 235.4v-3.5M420.5 36.2v3.5" stroke="#000" stroke-width="1"/>
<path d="M438.4 235.4v-2.2M438.4 36.2v2.2" stroke="#000" stroke-width="1"/>
<path d="M456.4 235.4v-3.5M456.4 36.2v3.5" stroke="#000" stroke-width="1"/>
<path d="M474.3 235.4v-2.2M474.3 36.2v2.2" stroke="#000" stroke-width="1"/>
<path d="M492.2 235.4v-3.5M492.2 36.2v3.5" stroke="#000" stroke-width="1"/>
<path d="M510.2 235.4v-2.2M510.2 36.2v2.2" stroke="#000" stroke-width="1"/>
<path d="M528.1 235.4v-3.5M528.1 36.2v3.5" stroke="#000" stroke-width="1"/>
<path d="M546.0 235.4v-2.2M546.0 36.2v2.2" stroke="#000" stroke-width="1"/>
<path d="M564.0 235.4v-3.5M564.0 36.2v3.5" stroke="#000" stroke-width="1"/>
<path d="M581.9 235.4v-2.2M581.9 36.2v2.2" stroke="#000" stroke-width="1"/>
<path d="M599.9 235.4v-3.5M599.9 36.2v3.5" stroke="#000" stroke-width="1"/>
<path d="M385.2 223.3h3.5M617.0 223.3h-3.5" stroke="#000" stroke-width="1"/>
<path d="M385.2 192.1h2.2M617.0 192.1h-2.2" stroke="#000" stroke-width="1"/>
<path d="M385.2 160.9h3.5M617.0 160.9h-3.5" stroke="#000" stroke-width="1"/>
<path d="M385.2 129.8h2.2M617.0 129.8h-2.2" stroke="#000" stroke-width="1"/>
<path d="M385.2 98.6h3.5M617.0 98.6h-3.5" stroke="#000" stroke-width="1"/>
<path d="M385.2 67.4h2.2M617.0 67.4h-2.2" stroke="#000" stroke-width="1"/>
<path d="M385.2 36.2h3.5M617.0 36.2h-3.5" stroke="#000" stroke-width="1"/>
<rect x="410.6" y="41.8" width="112.19999999999993" height="83.2" fill="#fff" stroke="none"/>
<clipPath id="ci"><rect x="410.6" y="41.8" width="112.19999999999993" height="83.2"/></clipPath>
<g clip-path="url(#ci)">
<line x1="416" y1="115.8" x2="522.8" y2="115.8" stroke="#4a4a4a" stroke-width="1.2" stroke-dasharray="2.8 3.2"/>
<path d="M414.6 105 C414.72 104.53 414.93 103.88 415.3 102.2 C415.67 100.52 416.18 97.03 416.8 94.9 C417.42 92.77 418.02 91.55 419 89.4 C419.98 87.25 421.17 84.30 422.7 82 C424.23 79.70 426.22 77.37 428.2 75.6 C430.18 73.83 432.47 72.62 434.6 71.4 C436.73 70.18 438.77 69.22 441 68.3 C443.23 67.38 444.88 66.85 448 65.9 C451.12 64.95 453.53 64.03 459.7 62.6 C465.87 61.17 477.90 58.60 485 57.3 C492.10 56.00 497.27 55.48 502.3 54.8 C507.33 54.12 511.58 53.67 515.2 53.2 C518.82 52.73 522.53 52.20 524 52" stroke="#e5522a" stroke-width="1.2" fill="none" stroke-linecap="round"/>
<path d="M425.1 115.7 C425.42 114.82 426.13 112.70 427 110.4 C427.87 108.10 428.93 105.25 430.3 101.9 C431.67 98.55 433.57 93.45 435.2 90.3 C436.83 87.15 437.97 85.35 440.1 83 C442.23 80.65 444.73 78.63 448 76.2 C451.27 73.77 455.62 70.57 459.7 68.4 C463.78 66.23 468.28 64.63 472.5 63.2 C476.72 61.77 480.03 60.83 485 59.8 C489.97 58.77 497.27 57.83 502.3 57 C507.33 56.17 511.58 55.42 515.2 54.8 C518.82 54.18 522.53 53.55 524 53.3" stroke="#578848" stroke-width="1.2" fill="none" stroke-linecap="round"/>
<line x1="414.2" y1="101" x2="414.2" y2="126" stroke="#578848" stroke-width="1.1"/>
</g>
<path d="M414.1 89.4V107.2M412.5 89.4h3.2M412.5 107.2h3.2" stroke="#e5522a" stroke-width="1" fill="none"/>
<path d="M435.2 71.9V82M433.59999999999997 71.9h3.2M433.59999999999997 82h3.2" stroke="#e5522a" stroke-width="1" fill="none"/>
<path d="M459.3 60.3V68.4M457.7 60.3h3.2M457.7 68.4h3.2" stroke="#e5522a" stroke-width="1" fill="none"/>
<path d="M515.2 47.5V53.2M513.6 47.5h3.2M513.6 53.2h3.2" stroke="#e5522a" stroke-width="1" fill="none"/>
<circle cx="414.1" cy="94.9" r="2.1" fill="#e5522a"/>
<circle cx="435.2" cy="75.6" r="2.1" fill="#e5522a"/>
<circle cx="459.3" cy="63.7" r="2.1" fill="#e5522a"/>
<circle cx="515.2" cy="50.3" r="2.1" fill="#e5522a"/>
<rect x="412.3" y="100.39999999999999" width="3.8" height="3.8" fill="#578848"/>
<rect x="433.3" y="88.69999999999999" width="3.8" height="3.8" fill="#578848"/>
<rect x="513.3000000000001" y="52.9" width="3.8" height="3.8" fill="#578848"/>
<rect x="410.6" y="41.8" width="112.19999999999993" height="83.2" fill="none" stroke="#000" stroke-width="1"/>
<path d="M428.8 125.0v-1.6M428.8 41.8v1.6" stroke="#000" stroke-width="0.9"/>
<path d="M446.1 125.0v-2.6M446.1 41.8v2.6" stroke="#000" stroke-width="0.9"/>
<path d="M463.4 125.0v-1.6M463.4 41.8v1.6" stroke="#000" stroke-width="0.9"/>
<path d="M480.8 125.0v-2.6M480.8 41.8v2.6" stroke="#000" stroke-width="0.9"/>
<path d="M498.1 125.0v-1.6M498.1 41.8v1.6" stroke="#000" stroke-width="0.9"/>
<path d="M515.5 125.0v-2.6M515.5 41.8v2.6" stroke="#000" stroke-width="0.9"/>
<path d="M410.6 124.2h2.6M522.8 124.2h-2.6" stroke="#000" stroke-width="0.8"/>
<path d="M410.6 116.7h1.4M522.8 116.7h-1.4" stroke="#000" stroke-width="0.8"/>
<path d="M410.6 112.3h1.4M522.8 112.3h-1.4" stroke="#000" stroke-width="0.8"/>
<path d="M410.6 109.2h1.4M522.8 109.2h-1.4" stroke="#000" stroke-width="0.8"/>
<path d="M410.6 106.8h1.4M522.8 106.8h-1.4" stroke="#000" stroke-width="0.8"/>
<path d="M410.6 104.8h1.4M522.8 104.8h-1.4" stroke="#000" stroke-width="0.8"/>
<path d="M410.6 103.2h1.4M522.8 103.2h-1.4" stroke="#000" stroke-width="0.8"/>
<path d="M410.6 101.7h1.4M522.8 101.7h-1.4" stroke="#000" stroke-width="0.8"/>
<path d="M410.6 100.4h1.4M522.8 100.4h-1.4" stroke="#000" stroke-width="0.8"/>
<path d="M410.6 99.3h2.6M522.8 99.3h-2.6" stroke="#000" stroke-width="0.8"/>
<path d="M410.6 91.8h1.4M522.8 91.8h-1.4" stroke="#000" stroke-width="0.8"/>
<path d="M410.6 87.4h1.4M522.8 87.4h-1.4" stroke="#000" stroke-width="0.8"/>
<path d="M410.6 84.3h1.4M522.8 84.3h-1.4" stroke="#000" stroke-width="0.8"/>
<path d="M410.6 81.9h1.4M522.8 81.9h-1.4" stroke="#000" stroke-width="0.8"/>
<path d="M410.6 79.9h1.4M522.8 79.9h-1.4" stroke="#000" stroke-width="0.8"/>
<path d="M410.6 78.3h1.4M522.8 78.3h-1.4" stroke="#000" stroke-width="0.8"/>
<path d="M410.6 76.8h1.4M522.8 76.8h-1.4" stroke="#000" stroke-width="0.8"/>
<path d="M410.6 75.5h1.4M522.8 75.5h-1.4" stroke="#000" stroke-width="0.8"/>
<path d="M410.6 74.4h2.6M522.8 74.4h-2.6" stroke="#000" stroke-width="0.8"/>
<path d="M410.6 66.9h1.4M522.8 66.9h-1.4" stroke="#000" stroke-width="0.8"/>
<path d="M410.6 62.5h1.4M522.8 62.5h-1.4" stroke="#000" stroke-width="0.8"/>
<path d="M410.6 59.4h1.4M522.8 59.4h-1.4" stroke="#000" stroke-width="0.8"/>
<path d="M410.6 57.0h1.4M522.8 57.0h-1.4" stroke="#000" stroke-width="0.8"/>
<path d="M410.6 55.0h1.4M522.8 55.0h-1.4" stroke="#000" stroke-width="0.8"/>
<path d="M410.6 53.4h1.4M522.8 53.4h-1.4" stroke="#000" stroke-width="0.8"/>
<path d="M410.6 51.9h1.4M522.8 51.9h-1.4" stroke="#000" stroke-width="0.8"/>
<path d="M410.6 50.6h1.4M522.8 50.6h-1.4" stroke="#000" stroke-width="0.8"/>
<path d="M410.6 49.5h2.6M522.8 49.5h-2.6" stroke="#000" stroke-width="0.8"/>
<path d="M410.6 42.0h1.4M522.8 42.0h-1.4" stroke="#000" stroke-width="0.8"/>
<g font-family="Liberation Sans, sans-serif" font-weight="bold" stroke="#000" stroke-width="0.2">
<text x="335.0" y="13.9" font-size="13.4" text-anchor="start" fill="#000" stroke="#000" >(b)</text>
<text x="381.2" y="42.5" font-size="11.2" text-anchor="end" fill="#000" stroke="#000" >150</text>
<text x="381.2" y="105.4" font-size="11.2" text-anchor="end" fill="#000" stroke="#000" >100</text>
<text x="381.2" y="167.6" font-size="11.2" text-anchor="end" fill="#000" stroke="#000" >50</text>
<text x="381.2" y="230.1" font-size="11.2" text-anchor="end" fill="#000" stroke="#000" >0</text>
<text x="384.6" y="248" font-size="11.2" text-anchor="middle" fill="#000" stroke="#000" >0</text>
<text x="420.475" y="248" font-size="11.2" text-anchor="middle" fill="#000" stroke="#000" >50</text>
<text x="456.35" y="248" font-size="11.2" text-anchor="middle" fill="#000" stroke="#000" >100</text>
<text x="492.225" y="248" font-size="11.2" text-anchor="middle" fill="#000" stroke="#000" >150</text>
<text x="528.1" y="248" font-size="11.2" text-anchor="middle" fill="#000" stroke="#000" >200</text>
<text x="563.975" y="248" font-size="11.2" text-anchor="middle" fill="#000" stroke="#000" >250</text>
<text x="599.85" y="248" font-size="11.2" text-anchor="middle" fill="#000" stroke="#000" >300</text>
<text x="501.5" y="265.4" font-size="13.35" text-anchor="middle" fill="#000" stroke="#000" >Temperature (K)</text>
<text transform="translate(357.4,135.6) rotate(-90)" font-size="13.25" text-anchor="middle" textLength="82" lengthAdjust="spacingAndGlyphs">F.WHM (meV)</text>
<text x="409.0" y="53.2" font-size="11.2" text-anchor="end" fill="#000" stroke="#000" >100</text>
<text x="409.0" y="78.3" font-size="11.2" text-anchor="end" fill="#000" stroke="#000" >10</text>
<text x="409.0" y="102.7" font-size="11.2" text-anchor="end" fill="#000" stroke="#000" >1</text>
<text x="409.0" y="127.8" font-size="11.2" text-anchor="end" fill="#000" stroke="#000" >0.1</text>
<text x="412.9" y="137.4" font-size="11.2" text-anchor="middle" fill="#000" stroke="#000" >0</text>
<text x="446.09999999999997" y="137.4" font-size="11.2" text-anchor="middle" fill="#000" stroke="#000" >100</text>
<text x="480.79999999999995" y="137.4" font-size="11.2" text-anchor="middle" fill="#000" stroke="#000" >200</text>
<text x="515.5" y="137.4" font-size="11.2" text-anchor="middle" fill="#000" stroke="#000" >300</text>
<text x="454.8" y="111.5" font-size="8.9" text-anchor="start" fill="#000" stroke="#000" >resolution limit</text>
<text x="431.1" y="166.2" font-size="11.5" text-anchor="start" fill="#df4a20" stroke="#df4a20" >thermal oxide</text>
<text x="534.5" y="203" font-size="11.5" text-anchor="start" fill="#4d7f3f" stroke="#4d7f3f" >this work</text>
</g>
</svg></body></html>
